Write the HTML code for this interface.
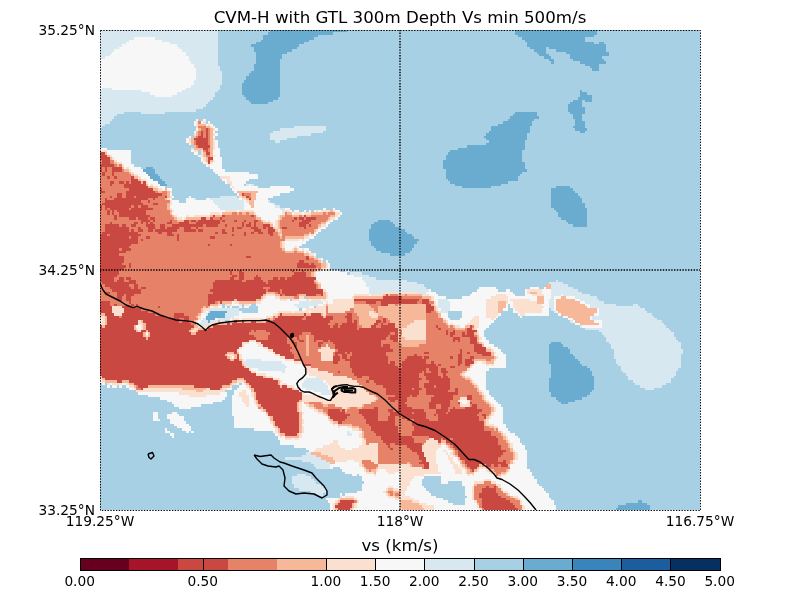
<!DOCTYPE html>
<html><head><meta charset="utf-8"><title>CVM-H with GTL 300m Depth Vs min 500m/s</title>
<style>
html,body{margin:0;padding:0;background:#fff;}
body{width:800px;height:600px;overflow:hidden;font-family:"DejaVu Sans","Liberation Sans",sans-serif;}
svg{display:block}
text{font-family:"DejaVu Sans","Liberation Sans",sans-serif;fill:#000}
.t10{font-size:13.75px}
.t12{font-size:16.67px}
</style></head><body>
<svg width="800" height="600" viewBox="0 0 800 600">
<rect width="800" height="600" fill="#fff"/>
<defs><clipPath id="mapclip"><rect x="100" y="30" width="600" height="480"/></clipPath></defs>
<g clip-path="url(#mapclip)" shape-rendering="crispEdges">
<rect x="100" y="30" width="600" height="480" fill="#a7d0e4"/>
<path fill="#ca4842" d="M206 128h2v3h-2zM201 131h2v2h-2zM206 131h2v2h-2zM201 133h2v3h-2zM206 133h2v3h-2zM198 136h5v2h-5zM206 136h2v2h-2zM194 138h14v2h-14zM196 140h12v3h-12zM196 143h12v2h-12zM198 145h12v3h-12zM203 148h5v2h-5zM206 150h2v2h-2zM100 152h5v3h-5zM206 152h4v3h-4zM100 155h7v2h-7zM100 157h10v3h-10zM208 157h5v3h-5zM102 160h8v2h-8zM208 160h2v2h-2zM102 162h8v2h-8zM208 162h2v2h-2zM100 164h14v3h-14zM100 167h2v2h-2zM105 167h2v2h-2zM112 167h10v2h-10zM100 169h2v3h-2zM105 169h2v3h-2zM112 169h10v3h-10zM102 172h3v2h-3zM112 172h2v2h-2zM102 174h3v2h-3zM112 174h2v2h-2zM107 176h3v3h-3zM114 176h3v3h-3zM131 176h3v3h-3zM131 179h7v2h-7zM110 181h4v3h-4zM119 181h5v3h-5zM126 181h3v3h-3zM131 181h10v3h-10zM143 181h3v3h-3zM110 184h2v2h-2zM124 184h22v2h-22zM124 186h24v2h-24zM100 188h2v3h-2zM129 188h24v3h-24zM100 191h5v2h-5zM126 191h29v2h-29zM117 193h5v3h-5zM126 193h36v3h-36zM242 193h2v3h-2zM110 196h2v2h-2zM117 196h5v2h-5zM126 196h8v2h-8zM136 196h22v2h-22zM165 196h2v2h-2zM246 196h3v2h-3zM105 198h2v2h-2zM114 198h34v2h-34zM153 198h2v2h-2zM249 198h2v2h-2zM105 200h36v3h-36zM148 200h2v3h-2zM102 203h41v2h-41zM153 203h5v2h-5zM100 205h2v3h-2zM105 205h26v3h-26zM134 205h4v3h-4zM141 205h7v3h-7zM100 208h2v2h-2zM105 208h2v2h-2zM110 208h19v2h-19zM131 208h22v2h-22zM107 210h3v2h-3zM112 210h2v2h-2zM117 210h29v2h-29zM107 212h3v3h-3zM112 212h2v3h-2zM119 212h27v3h-27zM114 215h3v2h-3zM119 215h31v2h-31zM213 215h2v2h-2zM222 215h3v2h-3zM251 215h3v2h-3zM304 215h2v2h-2zM114 217h3v3h-3zM129 217h7v3h-7zM138 217h10v3h-10zM150 217h5v3h-5zM201 217h5v3h-5zM210 217h3v3h-3zM220 217h2v3h-2zM294 217h3v3h-3zM299 217h5v3h-5zM306 217h10v3h-10zM141 220h9v2h-9zM153 220h2v2h-2zM170 220h2v2h-2zM184 220h5v2h-5zM191 220h5v2h-5zM198 220h22v2h-22zM222 220h3v2h-3zM234 220h3v2h-3zM244 220h2v2h-2zM254 220h4v2h-4zM292 220h2v2h-2zM302 220h9v2h-9zM110 222h2v2h-2zM134 222h4v2h-4zM141 222h2v2h-2zM146 222h2v2h-2zM150 222h3v2h-3zM167 222h5v2h-5zM179 222h10v2h-10zM196 222h24v2h-24zM242 222h2v2h-2zM249 222h2v2h-2zM254 222h2v2h-2zM299 222h10v2h-10zM105 224h14v3h-14zM122 224h4v3h-4zM131 224h5v3h-5zM146 224h9v3h-9zM160 224h5v3h-5zM172 224h31v3h-31zM206 224h12v3h-12zM225 224h2v3h-2zM242 224h2v3h-2zM246 224h5v3h-5zM254 224h2v3h-2zM263 224h7v3h-7zM299 224h7v3h-7zM309 224h2v3h-2zM105 227h24v2h-24zM138 227h3v2h-3zM148 227h7v2h-7zM160 227h5v2h-5zM167 227h12v2h-12zM184 227h7v2h-7zM196 227h2v2h-2zM232 227h2v2h-2zM237 227h5v2h-5zM251 227h7v2h-7zM263 227h3v2h-3zM268 227h5v2h-5zM282 227h5v2h-5zM304 227h2v2h-2zM105 229h24v3h-24zM131 229h3v3h-3zM138 229h5v3h-5zM148 229h5v3h-5zM155 229h22v3h-22zM184 229h12v3h-12zM198 229h5v3h-5zM222 229h3v3h-3zM232 229h2v3h-2zM254 229h7v3h-7zM268 229h7v3h-7zM102 232h36v2h-36zM158 232h4v2h-4zM167 232h5v2h-5zM215 232h3v2h-3zM222 232h5v2h-5zM244 232h2v2h-2zM251 232h3v2h-3zM258 232h5v2h-5zM268 232h5v2h-5zM100 234h7v2h-7zM110 234h31v2h-31zM167 234h7v2h-7zM177 234h2v2h-2zM232 234h2v2h-2zM244 234h2v2h-2zM270 234h3v2h-3zM100 236h29v3h-29zM131 236h7v3h-7zM146 236h4v3h-4zM177 236h2v3h-2zM210 236h5v3h-5zM100 239h38v2h-38zM141 239h2v2h-2zM177 239h2v2h-2zM100 241h38v3h-38zM100 244h31v2h-31zM208 244h2v2h-2zM230 244h2v2h-2zM100 246h29v2h-29zM100 248h19v3h-19zM122 248h9v3h-9zM100 251h26v2h-26zM100 253h19v3h-19zM100 256h24v2h-24zM246 256h5v2h-5zM306 256h3v2h-3zM100 258h24v2h-24zM306 258h3v2h-3zM100 260h24v3h-24zM299 260h5v3h-5zM100 263h22v2h-22zM129 263h2v2h-2zM297 263h12v2h-12zM311 263h3v2h-3zM100 265h26v3h-26zM129 265h2v3h-2zM297 265h19v3h-19zM100 268h24v2h-24zM100 270h19v2h-19zM230 270h2v2h-2zM239 270h3v2h-3zM292 270h2v2h-2zM302 270h2v2h-2zM100 272h19v3h-19zM230 272h2v3h-2zM239 272h5v3h-5zM294 272h12v3h-12zM100 275h17v2h-17zM232 275h5v2h-5zM239 275h5v2h-5zM256 275h2v2h-2zM292 275h14v2h-14zM100 277h14v3h-14zM119 277h5v3h-5zM126 277h5v3h-5zM230 277h4v3h-4zM239 277h5v3h-5zM254 277h7v3h-7zM273 277h5v3h-5zM280 277h5v3h-5zM287 277h29v3h-29zM100 280h14v2h-14zM117 280h7v2h-7zM129 280h7v2h-7zM215 280h27v2h-27zM246 280h17v2h-17zM268 280h46v2h-46zM102 282h34v2h-34zM213 282h53v2h-53zM268 282h46v2h-46zM105 284h24v3h-24zM134 284h4v3h-4zM213 284h103v3h-103zM110 287h21v2h-21zM134 287h4v2h-4zM141 287h5v2h-5zM213 287h50v2h-50zM270 287h46v2h-46zM112 289h29v3h-29zM210 289h56v3h-56zM268 289h12v3h-12zM282 289h41v3h-41zM105 292h5v2h-5zM117 292h24v2h-24zM213 292h53v2h-53zM278 292h2v2h-2zM282 292h41v2h-41zM117 294h7v2h-7zM126 294h8v2h-8zM208 294h55v2h-55zM280 294h2v2h-2zM285 294h12v2h-12zM306 294h10v2h-10zM321 294h2v2h-2zM386 294h2v2h-2zM117 296h5v3h-5zM126 296h5v3h-5zM208 296h53v3h-53zM383 296h19v3h-19zM119 299h3v2h-3zM126 299h5v2h-5zM208 299h26v2h-26zM237 299h19v2h-19zM354 299h65v2h-65zM422 299h7v2h-7zM100 301h10v3h-10zM129 301h2v3h-2zM208 301h7v3h-7zM220 301h2v3h-2zM366 301h10v3h-10zM381 301h36v3h-36zM422 301h7v3h-7zM100 304h10v2h-10zM114 304h3v2h-3zM131 304h3v2h-3zM136 304h2v2h-2zM208 304h2v2h-2zM381 304h7v2h-7zM426 304h5v2h-5zM100 306h12v2h-12zM122 306h9v2h-9zM158 306h2v2h-2zM426 306h8v2h-8zM100 308h12v3h-12zM124 308h17v3h-17zM426 308h8v3h-8zM100 311h12v2h-12zM124 311h24v2h-24zM426 311h5v2h-5zM105 313h9v3h-9zM122 313h33v3h-33zM174 313h10v3h-10zM280 313h2v3h-2zM304 313h2v3h-2zM311 313h10v3h-10zM347 313h5v3h-5zM107 316h12v2h-12zM122 316h43v2h-43zM174 316h15v2h-15zM278 316h26v2h-26zM306 316h17v2h-17zM326 316h7v2h-7zM345 316h7v2h-7zM107 318h72v2h-72zM184 318h5v2h-5zM275 318h27v2h-27zM306 318h27v2h-27zM347 318h5v2h-5zM383 318h3v2h-3zM107 320h31v3h-31zM143 320h36v3h-36zM182 320h7v3h-7zM234 320h3v3h-3zM242 320h2v3h-2zM251 320h5v3h-5zM266 320h4v3h-4zM273 320h57v3h-57zM347 320h5v3h-5zM354 320h3v3h-3zM376 320h5v3h-5zM383 320h3v3h-3zM107 323h31v2h-31zM146 323h45v2h-45zM227 323h3v2h-3zM232 323h96v2h-96zM335 323h3v2h-3zM342 323h15v2h-15zM374 323h4v2h-4zM381 323h2v2h-2zM388 323h7v2h-7zM100 325h2v3h-2zM105 325h29v3h-29zM146 325h48v3h-48zM213 325h117v3h-117zM333 325h5v3h-5zM340 325h17v3h-17zM371 325h5v3h-5zM381 325h14v3h-14zM436 325h2v3h-2zM470 325h2v3h-2zM100 328h34v2h-34zM146 328h45v2h-45zM208 328h149v2h-149zM359 328h39v2h-39zM438 328h3v2h-3zM467 328h5v2h-5zM100 330h36v2h-36zM141 330h5v2h-5zM148 330h41v2h-41zM198 330h53v2h-53zM254 330h2v2h-2zM266 330h132v2h-132zM446 330h2v2h-2zM453 330h2v2h-2zM467 330h10v2h-10zM100 332h43v3h-43zM150 332h41v3h-41zM196 332h53v3h-53zM270 332h32v3h-32zM311 332h79v3h-79zM395 332h3v3h-3zM446 332h2v3h-2zM450 332h5v3h-5zM462 332h3v3h-3zM467 332h7v3h-7zM100 335h43v2h-43zM150 335h104v2h-104zM268 335h31v2h-31zM314 335h74v2h-74zM390 335h8v2h-8zM450 335h3v2h-3zM462 335h12v2h-12zM100 337h46v3h-46zM148 337h108v3h-108zM268 337h19v3h-19zM290 337h2v3h-2zM297 337h2v3h-2zM314 337h72v3h-72zM390 337h8v3h-8zM453 337h7v3h-7zM470 337h7v3h-7zM100 340h149v2h-149zM256 340h31v2h-31zM292 340h2v2h-2zM299 340h5v2h-5zM314 340h2v2h-2zM323 340h5v2h-5zM330 340h51v2h-51zM393 340h5v2h-5zM453 340h2v2h-2zM458 340h2v2h-2zM470 340h7v2h-7zM100 342h142v2h-142zM261 342h26v2h-26zM294 342h3v2h-3zM318 342h5v2h-5zM333 342h48v2h-48zM470 342h7v2h-7zM100 344h142v3h-142zM263 344h27v3h-27zM294 344h3v3h-3zM318 344h3v3h-3zM335 344h46v3h-46zM383 344h7v3h-7zM474 344h8v3h-8zM100 347h139v2h-139zM268 347h24v2h-24zM335 347h55v2h-55zM474 347h12v2h-12zM100 349h137v3h-137zM273 349h17v3h-17zM338 349h55v3h-55zM460 349h2v3h-2zM474 349h12v3h-12zM100 352h127v2h-127zM234 352h3v2h-3zM275 352h17v2h-17zM335 352h10v2h-10zM347 352h3v2h-3zM352 352h34v2h-34zM424 352h5v2h-5zM460 352h2v2h-2zM467 352h3v2h-3zM477 352h14v2h-14zM100 354h125v2h-125zM237 354h2v2h-2zM280 354h14v2h-14zM335 354h3v2h-3zM342 354h5v2h-5zM352 354h34v2h-34zM414 354h3v2h-3zM458 354h4v2h-4zM482 354h9v2h-9zM100 356h127v3h-127zM237 356h2v3h-2zM285 356h9v3h-9zM333 356h7v3h-7zM342 356h5v3h-5zM350 356h38v3h-38zM407 356h15v3h-15zM424 356h5v3h-5zM450 356h3v3h-3zM458 356h4v3h-4zM470 356h4v3h-4zM100 359h130v2h-130zM234 359h5v2h-5zM294 359h8v2h-8zM333 359h7v2h-7zM345 359h43v2h-43zM405 359h21v2h-21zM458 359h4v2h-4zM465 359h7v2h-7zM100 361h142v3h-142zM333 361h5v3h-5zM350 361h38v3h-38zM390 361h5v3h-5zM402 361h24v3h-24zM431 361h3v3h-3zM458 361h4v3h-4zM465 361h9v3h-9zM100 364h142v2h-142zM304 364h7v2h-7zM350 364h45v2h-45zM400 364h36v2h-36zM438 364h3v2h-3zM458 364h2v2h-2zM465 364h5v2h-5zM100 366h144v2h-144zM350 366h48v2h-48zM402 366h36v2h-36zM450 366h5v2h-5zM100 368h149v3h-149zM352 368h74v3h-74zM429 368h9v3h-9zM441 368h5v3h-5zM100 371h151v2h-151zM338 371h2v2h-2zM352 371h70v2h-70zM424 371h2v2h-2zM431 371h7v2h-7zM441 371h7v2h-7zM100 373h156v3h-156zM354 373h65v3h-65zM424 373h14v3h-14zM443 373h3v3h-3zM102 376h161v2h-161zM357 376h5v2h-5zM369 376h50v2h-50zM426 376h15v2h-15zM443 376h5v2h-5zM105 378h132v2h-132zM244 378h29v2h-29zM369 378h53v2h-53zM426 378h24v2h-24zM117 380h5v3h-5zM129 380h103v3h-103zM246 380h32v3h-32zM366 380h3v3h-3zM374 380h45v3h-45zM429 380h21v3h-21zM134 383h96v2h-96zM249 383h29v2h-29zM376 383h43v2h-43zM424 383h26v2h-26zM138 385h10v3h-10zM194 385h28v3h-28zM251 385h29v3h-29zM282 385h5v3h-5zM383 385h36v3h-36zM424 385h10v3h-10zM436 385h14v3h-14zM141 388h2v2h-2zM210 388h10v2h-10zM254 388h38v2h-38zM386 388h26v2h-26zM414 388h8v2h-8zM426 388h24v2h-24zM455 388h3v2h-3zM254 390h45v2h-45zM386 390h33v2h-33zM426 390h22v2h-22zM455 390h3v2h-3zM256 392h46v3h-46zM386 392h33v3h-33zM426 392h32v3h-32zM256 395h46v2h-46zM395 395h15v2h-15zM412 395h5v2h-5zM434 395h19v2h-19zM467 395h5v2h-5zM256 397h46v3h-46zM388 397h19v3h-19zM431 397h22v3h-22zM467 397h5v3h-5zM258 400h41v2h-41zM390 400h5v2h-5zM398 400h9v2h-9zM431 400h19v2h-19zM258 402h39v2h-39zM398 402h7v2h-7zM429 402h21v2h-21zM458 402h2v2h-2zM470 402h2v2h-2zM261 404h36v3h-36zM398 404h9v3h-9zM429 404h7v3h-7zM441 404h9v3h-9zM472 404h5v3h-5zM263 407h34v2h-34zM374 407h4v2h-4zM398 407h14v2h-14zM429 407h7v2h-7zM441 407h7v2h-7zM453 407h2v2h-2zM465 407h12v2h-12zM266 409h31v3h-31zM328 409h12v3h-12zM342 409h3v3h-3zM359 409h19v3h-19zM388 409h5v3h-5zM398 409h26v3h-26zM436 409h12v3h-12zM450 409h32v3h-32zM268 412h31v2h-31zM328 412h17v2h-17zM359 412h19v2h-19zM390 412h8v2h-8zM400 412h12v2h-12zM414 412h12v2h-12zM436 412h10v2h-10zM448 412h31v2h-31zM268 414h31v2h-31zM328 414h22v2h-22zM362 414h16v2h-16zM390 414h36v2h-36zM434 414h2v2h-2zM438 414h39v2h-39zM482 414h4v2h-4zM273 416h26v3h-26zM330 416h17v3h-17zM364 416h14v3h-14zM388 416h7v3h-7zM402 416h24v3h-24zM438 416h41v3h-41zM484 416h2v3h-2zM273 419h26v2h-26zM333 419h12v2h-12zM366 419h12v2h-12zM388 419h7v2h-7zM407 419h3v2h-3zM414 419h15v2h-15zM438 419h41v2h-41zM275 421h24v3h-24zM338 421h4v3h-4zM366 421h29v3h-29zM412 421h72v3h-72zM275 424h24v2h-24zM369 424h26v2h-26zM412 424h72v2h-72zM278 426h21v2h-21zM371 426h27v2h-27zM414 426h70v2h-70zM280 428h19v3h-19zM371 428h27v3h-27zM414 428h70v3h-70zM280 431h19v2h-19zM374 431h24v2h-24zM412 431h79v2h-79zM285 433h12v3h-12zM376 433h24v3h-24zM412 433h79v3h-79zM381 436h31v2h-31zM429 436h67v2h-67zM381 438h33v2h-33zM434 438h7v2h-7zM443 438h7v2h-7zM453 438h45v2h-45zM383 440h31v3h-31zM438 440h3v3h-3zM446 440h52v3h-52zM386 443h4v2h-4zM395 443h27v2h-27zM450 443h48v2h-48zM388 445h2v3h-2zM407 445h15v3h-15zM453 445h48v3h-48zM390 448h3v2h-3zM410 448h12v2h-12zM455 448h46v2h-46zM412 450h10v2h-10zM458 450h48v2h-48zM417 452h7v3h-7zM458 452h45v3h-45zM419 455h5v2h-5zM458 455h43v2h-43zM419 457h7v3h-7zM460 457h38v3h-38zM422 460h4v2h-4zM465 460h33v2h-33zM503 460h3v2h-3zM419 462h10v2h-10zM465 462h41v2h-41zM424 464h5v3h-5zM467 464h12v3h-12zM486 464h5v3h-5zM494 464h4v3h-4zM501 464h7v3h-7zM424 467h5v2h-5zM470 467h7v2h-7zM472 469h2v3h-2zM486 486h3v2h-3zM494 486h2v2h-2zM482 488h14v3h-14zM482 491h14v2h-14zM479 493h19v3h-19zM479 496h22v2h-22zM482 498h24v2h-24zM340 500h14v3h-14zM482 500h28v3h-28zM338 503h14v2h-14zM482 503h31v2h-31zM335 505h17v3h-17zM482 505h33v3h-33zM338 508h12v2h-12zM484 508h34v2h-34z"/>
<path fill="#e58267" d="M198 121h3v3h-3zM198 126h8v2h-8zM201 128h5v3h-5zM208 128h2v3h-2zM198 131h3v2h-3zM203 131h3v2h-3zM208 131h2v2h-2zM198 133h3v3h-3zM203 133h3v3h-3zM208 133h2v3h-2zM196 136h2v2h-2zM203 136h3v2h-3zM208 136h2v2h-2zM208 138h2v2h-2zM194 140h2v3h-2zM208 140h2v3h-2zM194 143h2v2h-2zM208 143h2v2h-2zM196 145h2v3h-2zM208 148h2v2h-2zM203 150h3v2h-3zM208 150h2v2h-2zM206 155h4v2h-4zM100 160h2v2h-2zM110 160h4v2h-4zM100 162h2v2h-2zM110 162h4v2h-4zM114 164h3v3h-3zM119 164h3v3h-3zM102 167h3v2h-3zM107 167h5v2h-5zM102 169h3v3h-3zM107 169h5v3h-5zM122 169h2v3h-2zM100 172h2v2h-2zM105 172h7v2h-7zM114 172h15v2h-15zM100 174h2v2h-2zM105 174h7v2h-7zM114 174h17v2h-17zM100 176h7v3h-7zM110 176h4v3h-4zM117 176h14v3h-14zM100 179h31v2h-31zM100 181h10v3h-10zM114 181h5v3h-5zM124 181h2v3h-2zM129 181h2v3h-2zM100 184h10v2h-10zM112 184h12v2h-12zM100 186h24v2h-24zM102 188h27v3h-27zM105 191h21v2h-21zM155 191h3v2h-3zM162 191h5v2h-5zM100 193h17v3h-17zM122 193h4v3h-4zM162 193h5v3h-5zM244 193h7v3h-7zM100 196h10v2h-10zM112 196h5v2h-5zM122 196h4v2h-4zM134 196h2v2h-2zM158 196h7v2h-7zM249 196h2v2h-2zM100 198h5v2h-5zM107 198h7v2h-7zM148 198h5v2h-5zM155 198h10v2h-10zM100 200h5v3h-5zM141 200h7v3h-7zM150 200h20v3h-20zM100 203h2v2h-2zM143 203h10v2h-10zM158 203h9v2h-9zM102 205h3v3h-3zM131 205h3v3h-3zM138 205h3v3h-3zM148 205h19v3h-19zM102 208h3v2h-3zM107 208h3v2h-3zM129 208h2v2h-2zM153 208h14v2h-14zM100 210h7v2h-7zM110 210h2v2h-2zM114 210h3v2h-3zM146 210h24v2h-24zM100 212h7v3h-7zM110 212h2v3h-2zM114 212h5v3h-5zM146 212h24v3h-24zM232 212h5v3h-5zM239 212h3v3h-3zM246 212h3v3h-3zM285 212h2v3h-2zM323 212h3v3h-3zM328 212h7v3h-7zM100 215h14v2h-14zM117 215h2v2h-2zM150 215h22v2h-22zM225 215h26v2h-26zM254 215h2v2h-2zM285 215h7v2h-7zM299 215h3v2h-3zM311 215h19v2h-19zM100 217h14v3h-14zM117 217h12v3h-12zM136 217h2v3h-2zM148 217h2v3h-2zM155 217h19v3h-19zM213 217h7v3h-7zM222 217h34v3h-34zM282 217h12v3h-12zM297 217h2v3h-2zM304 217h2v3h-2zM316 217h12v3h-12zM100 220h41v2h-41zM150 220h3v2h-3zM155 220h15v2h-15zM172 220h5v2h-5zM189 220h2v2h-2zM196 220h2v2h-2zM220 220h2v2h-2zM225 220h9v2h-9zM237 220h7v2h-7zM246 220h8v2h-8zM258 220h3v2h-3zM280 220h12v2h-12zM294 220h8v2h-8zM311 220h15v2h-15zM100 222h10v2h-10zM112 222h22v2h-22zM138 222h3v2h-3zM143 222h3v2h-3zM148 222h2v2h-2zM153 222h14v2h-14zM172 222h7v2h-7zM189 222h7v2h-7zM220 222h22v2h-22zM244 222h5v2h-5zM251 222h3v2h-3zM256 222h7v2h-7zM280 222h19v2h-19zM309 222h12v2h-12zM100 224h5v3h-5zM119 224h3v3h-3zM126 224h5v3h-5zM136 224h10v3h-10zM155 224h5v3h-5zM165 224h7v3h-7zM203 224h3v3h-3zM218 224h7v3h-7zM227 224h15v3h-15zM244 224h2v3h-2zM251 224h3v3h-3zM256 224h7v3h-7zM280 224h19v3h-19zM306 224h3v3h-3zM311 224h7v3h-7zM100 227h5v2h-5zM129 227h9v2h-9zM141 227h7v2h-7zM155 227h5v2h-5zM165 227h2v2h-2zM179 227h5v2h-5zM191 227h5v2h-5zM198 227h34v2h-34zM234 227h3v2h-3zM242 227h9v2h-9zM258 227h5v2h-5zM266 227h2v2h-2zM280 227h2v2h-2zM287 227h17v2h-17zM306 227h12v2h-12zM100 229h5v3h-5zM129 229h2v3h-2zM134 229h4v3h-4zM143 229h5v3h-5zM153 229h2v3h-2zM177 229h7v3h-7zM196 229h2v3h-2zM203 229h19v3h-19zM225 229h7v3h-7zM234 229h20v3h-20zM261 229h7v3h-7zM282 229h32v3h-32zM100 232h2v2h-2zM138 232h20v2h-20zM162 232h5v2h-5zM172 232h43v2h-43zM218 232h4v2h-4zM227 232h17v2h-17zM246 232h5v2h-5zM254 232h4v2h-4zM263 232h5v2h-5zM273 232h5v2h-5zM282 232h27v2h-27zM311 232h3v2h-3zM107 234h3v2h-3zM141 234h26v2h-26zM174 234h3v2h-3zM179 234h53v2h-53zM234 234h10v2h-10zM246 234h24v2h-24zM273 234h5v2h-5zM282 234h22v2h-22zM129 236h2v3h-2zM138 236h8v3h-8zM150 236h27v3h-27zM179 236h31v3h-31zM215 236h65v3h-65zM282 236h3v3h-3zM138 239h3v2h-3zM143 239h34v2h-34zM179 239h106v2h-106zM138 241h142v3h-142zM131 244h77v2h-77zM210 244h20v2h-20zM232 244h48v2h-48zM129 246h151v2h-151zM119 248h3v3h-3zM131 248h151v3h-151zM126 251h159v2h-159zM294 251h3v2h-3zM119 253h185v3h-185zM124 256h122v2h-122zM251 256h55v2h-55zM124 258h182v2h-182zM309 258h5v2h-5zM124 260h175v3h-175zM304 260h14v3h-14zM122 263h7v2h-7zM131 263h166v2h-166zM309 263h2v2h-2zM314 263h7v2h-7zM126 265h3v3h-3zM131 265h166v3h-166zM316 265h5v3h-5zM124 268h192v2h-192zM318 268h3v2h-3zM119 270h111v2h-111zM232 270h7v2h-7zM242 270h50v2h-50zM294 270h8v2h-8zM304 270h10v2h-10zM119 272h111v3h-111zM232 272h7v3h-7zM244 272h50v3h-50zM306 272h5v3h-5zM117 275h115v2h-115zM237 275h2v2h-2zM244 275h12v2h-12zM258 275h34v2h-34zM306 275h5v2h-5zM114 277h5v3h-5zM124 277h2v3h-2zM131 277h99v3h-99zM234 277h5v3h-5zM244 277h10v3h-10zM261 277h12v3h-12zM278 277h2v3h-2zM285 277h2v3h-2zM114 280h3v2h-3zM124 280h5v2h-5zM136 280h79v2h-79zM242 280h4v2h-4zM263 280h5v2h-5zM100 282h2v2h-2zM136 282h77v2h-77zM266 282h2v2h-2zM314 282h2v2h-2zM100 284h5v3h-5zM129 284h5v3h-5zM138 284h75v3h-75zM316 284h2v3h-2zM100 287h10v2h-10zM131 287h3v2h-3zM138 287h3v2h-3zM146 287h67v2h-67zM263 287h7v2h-7zM316 287h2v2h-2zM100 289h12v3h-12zM141 289h69v3h-69zM266 289h2v3h-2zM280 289h2v3h-2zM100 292h5v2h-5zM110 292h7v2h-7zM141 292h72v2h-72zM275 292h3v2h-3zM280 292h2v2h-2zM100 294h17v2h-17zM124 294h2v2h-2zM134 294h74v2h-74zM282 294h3v2h-3zM297 294h2v2h-2zM316 294h5v2h-5zM390 294h8v2h-8zM405 294h2v2h-2zM100 296h17v3h-17zM122 296h4v3h-4zM131 296h77v3h-77zM294 296h5v3h-5zM402 296h20v3h-20zM100 299h19v2h-19zM122 299h4v2h-4zM131 299h77v2h-77zM419 299h3v2h-3zM110 301h19v3h-19zM131 301h77v3h-77zM215 301h3v3h-3zM354 301h12v3h-12zM376 301h5v3h-5zM417 301h5v3h-5zM429 301h5v3h-5zM110 304h4v2h-4zM117 304h14v2h-14zM134 304h2v2h-2zM138 304h70v2h-70zM369 304h12v2h-12zM395 304h3v2h-3zM131 306h27v2h-27zM160 306h43v2h-43zM206 306h2v2h-2zM326 306h2v2h-2zM371 306h7v2h-7zM141 308h60v3h-60zM326 308h2v3h-2zM350 308h4v3h-4zM374 308h4v3h-4zM148 311h53v2h-53zM326 311h2v2h-2zM345 311h9v2h-9zM376 311h2v2h-2zM431 311h5v2h-5zM155 313h19v3h-19zM184 313h14v3h-14zM326 313h21v3h-21zM352 313h5v3h-5zM426 313h12v3h-12zM119 316h3v2h-3zM165 316h9v2h-9zM189 316h7v2h-7zM273 316h2v2h-2zM304 316h2v2h-2zM333 316h12v2h-12zM352 316h7v2h-7zM378 316h5v2h-5zM426 316h12v2h-12zM179 318h5v2h-5zM189 318h9v2h-9zM268 318h2v2h-2zM273 318h2v2h-2zM302 318h4v2h-4zM333 318h14v2h-14zM352 318h7v2h-7zM378 318h5v2h-5zM386 318h2v2h-2zM426 318h17v2h-17zM179 320h3v3h-3zM189 320h5v3h-5zM270 320h3v3h-3zM330 320h17v3h-17zM352 320h2v3h-2zM357 320h2v3h-2zM381 320h2v3h-2zM386 320h4v3h-4zM426 320h17v3h-17zM191 323h5v2h-5zM328 323h7v2h-7zM338 323h4v2h-4zM357 323h2v2h-2zM378 323h3v2h-3zM383 323h5v2h-5zM426 323h20v2h-20zM330 325h3v3h-3zM338 325h2v3h-2zM357 325h5v3h-5zM376 325h5v3h-5zM426 325h10v3h-10zM438 325h10v3h-10zM450 325h3v3h-3zM472 325h2v3h-2zM357 328h2v2h-2zM426 328h12v2h-12zM441 328h14v2h-14zM465 328h2v2h-2zM251 330h3v2h-3zM256 330h10v2h-10zM400 330h2v2h-2zM426 330h20v2h-20zM448 330h5v2h-5zM455 330h12v2h-12zM249 332h21v3h-21zM302 332h9v3h-9zM390 332h5v3h-5zM400 332h2v3h-2zM426 332h20v3h-20zM448 332h2v3h-2zM455 332h7v3h-7zM465 332h2v3h-2zM254 335h14v2h-14zM299 335h7v2h-7zM309 335h5v2h-5zM388 335h2v2h-2zM426 335h24v2h-24zM453 335h9v2h-9zM474 335h3v2h-3zM256 337h12v3h-12zM287 337h3v3h-3zM292 337h5v3h-5zM299 337h7v3h-7zM309 337h5v3h-5zM386 337h4v3h-4zM426 337h27v3h-27zM460 337h10v3h-10zM287 340h5v2h-5zM294 340h5v2h-5zM304 340h2v2h-2zM309 340h5v2h-5zM316 340h7v2h-7zM328 340h2v2h-2zM381 340h12v2h-12zM426 340h27v2h-27zM455 340h3v2h-3zM460 340h10v2h-10zM287 342h7v2h-7zM297 342h9v2h-9zM309 342h9v2h-9zM323 342h10v2h-10zM381 342h19v2h-19zM426 342h44v2h-44zM477 342h2v2h-2zM290 344h4v3h-4zM297 344h9v3h-9zM309 344h9v3h-9zM321 344h5v3h-5zM328 344h7v3h-7zM381 344h2v3h-2zM390 344h12v3h-12zM419 344h55v3h-55zM292 347h14v2h-14zM309 347h12v2h-12zM330 347h5v2h-5zM390 347h84v2h-84zM290 349h16v3h-16zM309 349h9v3h-9zM335 349h3v3h-3zM393 349h67v3h-67zM462 349h12v3h-12zM292 352h14v2h-14zM309 352h12v2h-12zM333 352h2v2h-2zM345 352h2v2h-2zM350 352h2v2h-2zM386 352h38v2h-38zM429 352h31v2h-31zM462 352h5v2h-5zM470 352h7v2h-7zM294 354h12v2h-12zM309 354h12v2h-12zM333 354h2v2h-2zM338 354h4v2h-4zM347 354h5v2h-5zM386 354h28v2h-28zM417 354h41v2h-41zM462 354h20v2h-20zM294 356h27v3h-27zM340 356h2v3h-2zM347 356h3v3h-3zM388 356h19v3h-19zM422 356h2v3h-2zM429 356h21v3h-21zM453 356h5v3h-5zM462 356h8v3h-8zM474 356h20v3h-20zM302 359h19v2h-19zM340 359h5v2h-5zM388 359h17v2h-17zM426 359h32v2h-32zM462 359h3v2h-3zM472 359h2v2h-2zM486 359h5v2h-5zM302 361h31v3h-31zM338 361h12v3h-12zM388 361h2v3h-2zM395 361h7v3h-7zM426 361h5v3h-5zM434 361h24v3h-24zM462 361h3v3h-3zM311 364h39v2h-39zM395 364h5v2h-5zM436 364h2v2h-2zM441 364h17v2h-17zM460 364h5v2h-5zM311 366h39v2h-39zM398 366h4v2h-4zM438 366h12v2h-12zM455 366h15v2h-15zM318 368h34v3h-34zM426 368h3v3h-3zM438 368h3v3h-3zM446 368h21v3h-21zM328 371h10v2h-10zM340 371h12v2h-12zM422 371h2v2h-2zM426 371h5v2h-5zM438 371h3v2h-3zM448 371h14v2h-14zM333 373h21v3h-21zM419 373h5v3h-5zM438 373h5v3h-5zM446 373h14v3h-14zM347 376h10v2h-10zM362 376h7v2h-7zM419 376h7v2h-7zM441 376h2v2h-2zM448 376h14v2h-14zM352 378h17v2h-17zM422 378h4v2h-4zM450 378h15v2h-15zM357 380h9v3h-9zM369 380h5v3h-5zM419 380h10v3h-10zM450 380h20v3h-20zM359 383h17v2h-17zM419 383h5v2h-5zM450 383h22v2h-22zM136 385h2v3h-2zM362 385h21v3h-21zM419 385h5v3h-5zM434 385h2v3h-2zM450 385h24v3h-24zM136 388h5v2h-5zM364 388h22v2h-22zM412 388h2v2h-2zM422 388h4v2h-4zM450 388h5v2h-5zM458 388h19v2h-19zM366 390h20v2h-20zM419 390h7v2h-7zM448 390h7v2h-7zM458 390h19v2h-19zM369 392h17v3h-17zM419 392h7v3h-7zM458 392h21v3h-21zM376 395h19v2h-19zM410 395h2v2h-2zM417 395h17v2h-17zM453 395h14v2h-14zM472 395h10v2h-10zM378 397h10v3h-10zM407 397h24v3h-24zM453 397h7v3h-7zM472 397h10v3h-10zM376 400h14v2h-14zM395 400h3v2h-3zM407 400h24v2h-24zM450 400h8v2h-8zM470 400h14v2h-14zM309 402h12v2h-12zM371 402h27v2h-27zM405 402h24v2h-24zM450 402h8v2h-8zM472 402h14v2h-14zM314 404h9v3h-9zM328 404h7v3h-7zM364 404h34v3h-34zM407 404h22v3h-22zM436 404h5v3h-5zM450 404h10v3h-10zM470 404h2v3h-2zM477 404h12v3h-12zM258 407h3v2h-3zM316 407h26v2h-26zM350 407h7v2h-7zM362 407h12v2h-12zM378 407h20v2h-20zM412 407h17v2h-17zM436 407h5v2h-5zM448 407h5v2h-5zM455 407h10v2h-10zM477 407h14v2h-14zM323 409h5v3h-5zM340 409h2v3h-2zM347 409h12v3h-12zM378 409h10v3h-10zM393 409h5v3h-5zM424 409h12v3h-12zM448 409h2v3h-2zM482 409h9v3h-9zM326 412h2v2h-2zM345 412h14v2h-14zM378 412h12v2h-12zM398 412h2v2h-2zM412 412h2v2h-2zM426 412h10v2h-10zM446 412h2v2h-2zM479 412h12v2h-12zM350 414h12v2h-12zM378 414h12v2h-12zM426 414h8v2h-8zM436 414h2v2h-2zM477 414h5v2h-5zM486 414h3v2h-3zM347 416h17v3h-17zM378 416h10v3h-10zM395 416h7v3h-7zM426 416h12v3h-12zM479 416h5v3h-5zM345 419h21v2h-21zM378 419h10v2h-10zM395 419h12v2h-12zM410 419h4v2h-4zM429 419h9v2h-9zM479 419h5v2h-5zM342 421h24v3h-24zM395 421h17v3h-17zM352 424h17v2h-17zM395 424h17v2h-17zM359 426h12v2h-12zM398 426h16v2h-16zM484 426h5v2h-5zM362 428h9v3h-9zM398 428h16v3h-16zM484 428h10v3h-10zM496 428h2v3h-2zM364 431h10v2h-10zM398 431h14v2h-14zM491 431h7v2h-7zM364 433h12v3h-12zM400 433h12v3h-12zM491 433h10v3h-10zM364 436h17v2h-17zM412 436h17v2h-17zM496 436h7v2h-7zM366 438h15v2h-15zM414 438h15v2h-15zM441 438h2v2h-2zM450 438h3v2h-3zM498 438h5v2h-5zM366 440h17v3h-17zM414 440h12v3h-12zM498 440h8v3h-8zM366 443h3v2h-3zM378 443h8v2h-8zM390 443h5v2h-5zM422 443h2v2h-2zM446 443h4v2h-4zM498 443h10v2h-10zM378 445h10v3h-10zM390 445h17v3h-17zM450 445h3v3h-3zM501 445h7v3h-7zM378 448h12v2h-12zM393 448h17v2h-17zM453 448h2v2h-2zM501 448h9v2h-9zM378 450h34v2h-34zM455 450h3v2h-3zM506 450h4v2h-4zM378 452h39v3h-39zM455 452h3v3h-3zM503 452h10v3h-10zM378 455h41v2h-41zM501 455h12v2h-12zM378 457h41v3h-41zM498 457h15v3h-15zM362 460h9v2h-9zM378 460h44v2h-44zM462 460h3v2h-3zM498 460h5v2h-5zM506 460h4v2h-4zM362 462h12v2h-12zM378 462h29v2h-29zM410 462h9v2h-9zM462 462h3v2h-3zM506 462h4v2h-4zM364 464h14v3h-14zM412 464h12v3h-12zM465 464h2v3h-2zM482 464h2v3h-2zM491 464h3v3h-3zM498 464h3v3h-3zM366 467h10v2h-10zM422 467h2v2h-2zM467 467h3v2h-3zM489 467h21v2h-21zM369 469h2v3h-2zM470 469h2v3h-2zM494 469h12v3h-12zM496 472h5v2h-5zM496 474h2v2h-2zM484 481h7v3h-7zM477 484h19v2h-19zM474 486h12v2h-12zM489 486h5v2h-5zM496 486h2v2h-2zM474 488h8v3h-8zM496 488h5v3h-5zM388 491h5v2h-5zM474 491h8v2h-8zM496 491h7v2h-7zM390 493h3v3h-3zM395 493h5v3h-5zM474 493h5v3h-5zM498 493h8v3h-8zM474 496h5v2h-5zM501 496h9v2h-9zM474 498h8v2h-8zM506 498h9v2h-9zM354 500h3v3h-3zM477 500h5v3h-5zM510 500h10v3h-10zM479 503h3v2h-3zM513 503h7v2h-7zM479 505h3v3h-3zM515 505h7v3h-7zM482 508h2v2h-2zM518 508h4v2h-4z"/>
<path fill="#f7b799" d="M198 124h8v2h-8zM206 126h4v2h-4zM198 128h3v3h-3zM210 128h3v3h-3zM196 131h2v2h-2zM210 131h3v2h-3zM196 133h2v3h-2zM210 133h3v3h-3zM194 136h2v2h-2zM210 136h3v2h-3zM191 138h3v2h-3zM210 138h3v2h-3zM191 140h3v3h-3zM210 140h3v3h-3zM191 143h3v2h-3zM210 143h3v2h-3zM194 145h2v3h-2zM210 145h3v3h-3zM194 148h9v2h-9zM210 148h3v2h-3zM210 150h3v2h-3zM105 152h2v3h-2zM203 152h3v3h-3zM210 152h3v3h-3zM107 155h3v2h-3zM203 155h3v2h-3zM210 155h3v2h-3zM110 157h2v3h-2zM206 157h2v3h-2zM206 160h2v2h-2zM210 160h3v2h-3zM114 162h3v2h-3zM117 164h2v3h-2zM122 167h2v2h-2zM124 169h5v3h-5zM129 172h2v2h-2zM131 174h3v2h-3zM134 176h4v3h-4zM138 179h3v2h-3zM141 181h2v3h-2zM146 184h2v2h-2zM148 186h5v2h-5zM153 188h5v3h-5zM165 188h2v3h-2zM158 191h4v2h-4zM167 191h3v2h-3zM237 191h21v2h-21zM167 193h3v3h-3zM239 193h3v3h-3zM251 193h5v3h-5zM167 196h3v2h-3zM242 196h4v2h-4zM251 196h5v2h-5zM165 198h2v2h-2zM246 198h3v2h-3zM251 198h5v2h-5zM249 200h5v3h-5zM167 203h3v2h-3zM249 203h5v2h-5zM167 205h3v3h-3zM251 205h3v3h-3zM167 208h3v2h-3zM170 210h2v2h-2zM330 210h3v2h-3zM170 212h2v3h-2zM222 212h10v3h-10zM237 212h2v3h-2zM242 212h4v3h-4zM249 212h5v3h-5zM287 212h5v3h-5zM311 212h12v3h-12zM326 212h2v3h-2zM172 215h2v2h-2zM210 215h3v2h-3zM215 215h7v2h-7zM280 215h5v2h-5zM292 215h7v2h-7zM302 215h2v2h-2zM306 215h5v2h-5zM330 215h5v2h-5zM174 217h3v3h-3zM186 217h15v3h-15zM206 217h4v3h-4zM256 217h5v3h-5zM280 217h2v3h-2zM328 217h2v3h-2zM177 220h7v2h-7zM261 220h2v2h-2zM278 220h2v2h-2zM326 220h2v2h-2zM263 222h7v2h-7zM278 222h2v2h-2zM321 222h5v2h-5zM270 224h3v3h-3zM278 224h2v3h-2zM318 224h3v3h-3zM273 227h2v2h-2zM278 227h2v2h-2zM275 229h3v3h-3zM280 229h2v3h-2zM314 229h2v3h-2zM278 232h4v2h-4zM309 232h2v2h-2zM278 234h2v2h-2zM304 234h5v2h-5zM280 236h2v3h-2zM285 236h19v3h-19zM280 241h2v3h-2zM280 244h2v2h-2zM280 246h2v2h-2zM282 248h3v3h-3zM294 248h3v3h-3zM285 251h9v2h-9zM297 251h7v2h-7zM304 253h5v3h-5zM309 256h5v2h-5zM314 258h4v2h-4zM318 260h3v3h-3zM321 263h5v2h-5zM321 265h5v3h-5zM316 268h2v2h-2zM314 270h2v2h-2zM311 272h3v3h-3zM311 275h3v2h-3zM314 280h2v2h-2zM316 282h2v2h-2zM318 284h3v3h-3zM546 284h5v3h-5zM318 287h3v2h-3zM546 287h5v2h-5zM266 292h9v2h-9zM323 292h3v2h-3zM530 292h7v2h-7zM263 294h3v2h-3zM275 294h5v2h-5zM299 294h7v2h-7zM323 294h3v2h-3zM383 294h3v2h-3zM388 294h2v2h-2zM398 294h7v2h-7zM407 294h15v2h-15zM261 296h2v3h-2zM280 296h14v3h-14zM306 296h20v3h-20zM354 296h29v3h-29zM422 296h9v3h-9zM537 296h7v3h-7zM561 296h5v3h-5zM234 299h3v2h-3zM256 299h5v2h-5zM429 299h2v2h-2zM537 299h7v2h-7zM556 299h19v2h-19zM218 301h2v3h-2zM222 301h10v3h-10zM239 301h17v3h-17zM498 301h8v3h-8zM537 301h7v3h-7zM556 301h24v3h-24zM210 304h8v2h-8zM326 304h2v2h-2zM354 304h15v2h-15zM388 304h7v2h-7zM398 304h28v2h-28zM431 304h3v2h-3zM498 304h8v2h-8zM556 304h29v2h-29zM203 306h3v2h-3zM208 306h2v2h-2zM354 306h17v2h-17zM378 306h48v2h-48zM434 306h2v2h-2zM498 306h8v2h-8zM556 306h31v2h-31zM201 308h2v3h-2zM354 308h20v3h-20zM378 308h48v3h-48zM434 308h2v3h-2zM498 308h5v3h-5zM556 308h41v3h-41zM201 311h2v2h-2zM354 311h15v2h-15zM374 311h2v2h-2zM378 311h48v2h-48zM436 311h2v2h-2zM498 311h3v2h-3zM558 311h39v2h-39zM100 313h5v3h-5zM198 313h3v3h-3zM278 313h2v3h-2zM282 313h22v3h-22zM306 313h5v3h-5zM321 313h2v3h-2zM357 313h12v3h-12zM378 313h48v3h-48zM438 313h3v3h-3zM561 313h33v3h-33zM105 316h2v2h-2zM196 316h2v2h-2zM275 316h3v2h-3zM323 316h3v2h-3zM359 316h12v2h-12zM383 316h43v2h-43zM438 316h3v2h-3zM568 316h22v2h-22zM105 318h2v2h-2zM266 318h2v2h-2zM270 318h3v2h-3zM359 318h19v2h-19zM388 318h38v2h-38zM573 318h17v2h-17zM105 320h2v3h-2zM141 320h2v3h-2zM194 320h2v3h-2zM232 320h2v3h-2zM237 320h5v3h-5zM244 320h7v3h-7zM256 320h10v3h-10zM359 320h17v3h-17zM390 320h24v3h-24zM443 320h3v3h-3zM575 320h19v3h-19zM105 323h2v2h-2zM143 323h3v2h-3zM215 323h12v2h-12zM230 323h2v2h-2zM359 323h15v2h-15zM395 323h15v2h-15zM446 323h2v2h-2zM580 323h19v2h-19zM102 325h3v3h-3zM134 325h2v3h-2zM143 325h3v3h-3zM194 325h4v3h-4zM208 325h5v3h-5zM362 325h9v3h-9zM395 325h12v3h-12zM448 325h2v3h-2zM453 325h2v3h-2zM465 325h5v3h-5zM134 328h2v2h-2zM143 328h3v2h-3zM191 328h3v2h-3zM198 328h10v2h-10zM398 328h4v2h-4zM455 328h10v2h-10zM472 328h2v2h-2zM136 330h2v2h-2zM146 330h2v2h-2zM189 330h2v2h-2zM196 330h2v2h-2zM398 330h2v2h-2zM143 332h3v3h-3zM148 332h2v3h-2zM191 332h5v3h-5zM398 332h2v3h-2zM474 332h3v3h-3zM143 335h3v2h-3zM148 335h2v2h-2zM306 335h3v2h-3zM398 335h4v2h-4zM477 335h2v2h-2zM146 337h2v3h-2zM306 337h3v3h-3zM398 337h7v3h-7zM477 337h2v3h-2zM306 340h3v2h-3zM398 340h28v2h-28zM477 340h2v2h-2zM306 342h3v2h-3zM400 342h26v2h-26zM479 342h3v2h-3zM306 344h3v3h-3zM402 344h17v3h-17zM482 344h2v3h-2zM306 347h3v2h-3zM306 349h3v3h-3zM486 349h5v3h-5zM227 352h7v2h-7zM237 352h2v2h-2zM306 352h3v2h-3zM491 352h3v2h-3zM225 354h2v2h-2zM234 354h3v2h-3zM306 354h3v2h-3zM491 354h3v2h-3zM227 356h3v3h-3zM234 356h3v3h-3zM494 356h2v3h-2zM230 359h4v2h-4zM239 359h3v2h-3zM474 359h12v2h-12zM491 359h3v2h-3zM486 361h8v3h-8zM242 364h2v2h-2zM470 364h2v2h-2zM244 366h2v2h-2zM462 371h3v2h-3zM460 373h2v3h-2zM100 376h2v2h-2zM263 376h3v2h-3zM462 376h3v2h-3zM102 378h3v2h-3zM237 378h7v2h-7zM465 378h5v2h-5zM105 380h12v3h-12zM122 380h7v3h-7zM232 380h5v3h-5zM244 380h2v3h-2zM278 380h2v3h-2zM470 380h2v3h-2zM129 383h5v2h-5zM230 383h2v2h-2zM246 383h3v2h-3zM278 383h2v2h-2zM472 383h2v2h-2zM134 385h2v3h-2zM148 385h46v3h-46zM222 385h8v3h-8zM249 385h2v3h-2zM280 385h2v3h-2zM474 385h3v3h-3zM182 388h24v2h-24zM220 388h2v2h-2zM251 388h3v2h-3zM292 388h2v2h-2zM477 388h2v2h-2zM196 390h7v2h-7zM251 390h3v2h-3zM477 390h2v2h-2zM254 392h2v3h-2zM479 392h3v3h-3zM254 395h2v2h-2zM374 395h2v2h-2zM482 395h2v2h-2zM254 397h2v3h-2zM376 397h2v3h-2zM482 397h2v3h-2zM256 400h2v2h-2zM299 400h3v2h-3zM374 400h2v2h-2zM484 400h2v2h-2zM256 402h2v2h-2zM297 402h2v2h-2zM304 402h5v2h-5zM321 402h2v2h-2zM486 402h3v2h-3zM258 404h3v3h-3zM297 404h2v3h-2zM309 404h5v3h-5zM323 404h5v3h-5zM362 404h2v3h-2zM489 404h2v3h-2zM261 407h2v2h-2zM297 407h2v2h-2zM314 407h2v2h-2zM347 407h3v2h-3zM357 407h5v2h-5zM491 407h3v2h-3zM263 409h3v3h-3zM297 409h2v3h-2zM318 409h5v3h-5zM345 409h2v3h-2zM491 409h3v3h-3zM266 412h2v2h-2zM299 412h3v2h-3zM323 412h3v2h-3zM299 414h3v2h-3zM326 414h2v2h-2zM489 414h2v2h-2zM270 416h3v3h-3zM299 416h3v3h-3zM328 416h2v3h-2zM486 416h3v3h-3zM270 419h3v2h-3zM299 419h3v2h-3zM330 419h3v2h-3zM484 419h2v2h-2zM273 421h2v3h-2zM299 421h3v3h-3zM333 421h5v3h-5zM484 421h2v3h-2zM273 424h2v2h-2zM299 424h3v2h-3zM338 424h14v2h-14zM484 424h2v2h-2zM275 426h3v2h-3zM299 426h3v2h-3zM352 426h7v2h-7zM489 426h5v2h-5zM278 428h2v3h-2zM299 428h3v3h-3zM359 428h3v3h-3zM494 428h2v3h-2zM278 431h2v2h-2zM299 431h3v2h-3zM362 431h2v2h-2zM498 431h3v2h-3zM280 433h5v3h-5zM297 433h2v3h-2zM362 433h2v3h-2zM501 433h2v3h-2zM285 436h14v2h-14zM362 436h2v2h-2zM503 436h3v2h-3zM364 438h2v2h-2zM503 438h3v2h-3zM441 440h5v3h-5zM506 440h2v3h-2zM438 443h3v2h-3zM508 443h2v2h-2zM448 445h2v3h-2zM508 445h2v3h-2zM450 448h3v2h-3zM510 448h3v2h-3zM453 450h2v2h-2zM510 450h3v2h-3zM311 452h10v3h-10zM453 452h2v3h-2zM513 452h2v3h-2zM316 455h12v2h-12zM455 455h3v2h-3zM513 455h2v2h-2zM321 457h12v3h-12zM458 457h2v3h-2zM513 457h2v3h-2zM326 460h9v2h-9zM460 460h2v2h-2zM510 460h3v2h-3zM330 462h5v2h-5zM407 462h3v2h-3zM460 462h2v2h-2zM510 462h3v2h-3zM362 464h2v3h-2zM410 464h2v3h-2zM462 464h3v3h-3zM479 464h3v3h-3zM484 464h2v3h-2zM508 464h2v3h-2zM364 467h2v2h-2zM376 467h2v2h-2zM465 467h2v2h-2zM477 467h2v2h-2zM486 467h3v2h-3zM366 469h3v3h-3zM371 469h5v3h-5zM467 469h3v3h-3zM474 469h3v3h-3zM489 469h5v3h-5zM506 469h2v3h-2zM374 472h2v2h-2zM467 472h7v2h-7zM494 472h2v2h-2zM501 472h5v2h-5zM498 474h3v2h-3zM474 484h3v2h-3zM388 488h5v3h-5zM386 491h2v2h-2zM393 491h7v2h-7zM388 493h2v3h-2zM393 493h2v3h-2zM506 493h2v3h-2zM395 496h5v2h-5zM510 496h3v2h-3zM340 498h14v2h-14zM515 498h3v2h-3zM338 500h2v3h-2zM400 500h12v3h-12zM335 503h3v2h-3zM352 503h2v2h-2zM400 503h19v2h-19zM477 503h2v2h-2zM352 505h2v3h-2zM400 505h22v3h-22zM335 508h3v2h-3zM350 508h2v2h-2zM402 508h22v2h-22z"/>
<path fill="#fce0cf" d="M196 121h2v3h-2zM203 121h3v3h-3zM196 124h2v2h-2zM208 124h2v2h-2zM196 126h2v2h-2zM210 126h3v2h-3zM213 128h2v3h-2zM194 133h2v3h-2zM213 133h2v3h-2zM189 138h2v2h-2zM213 138h2v2h-2zM189 140h2v3h-2zM213 140h2v3h-2zM213 143h2v2h-2zM213 145h2v3h-2zM191 148h3v2h-3zM213 148h2v2h-2zM100 150h7v2h-7zM194 150h4v2h-4zM201 150h2v2h-2zM201 152h2v3h-2zM110 155h2v2h-2zM201 155h2v2h-2zM213 155h2v2h-2zM112 157h2v3h-2zM203 157h3v3h-3zM114 160h3v2h-3zM203 160h3v2h-3zM213 160h2v2h-2zM117 162h5v2h-5zM206 162h2v2h-2zM210 162h3v2h-3zM122 164h2v3h-2zM208 164h2v3h-2zM126 167h3v2h-3zM129 169h2v3h-2zM131 172h3v2h-3zM134 174h4v2h-4zM138 176h3v3h-3zM220 176h10v3h-10zM141 179h5v2h-5zM227 179h3v2h-3zM146 181h2v3h-2zM227 181h5v3h-5zM150 184h3v2h-3zM230 184h2v2h-2zM153 186h5v2h-5zM232 186h2v2h-2zM158 188h4v3h-4zM170 191h2v2h-2zM170 196h2v2h-2zM239 196h3v2h-3zM167 198h3v2h-3zM242 198h4v2h-4zM170 200h2v3h-2zM246 200h3v3h-3zM170 203h2v2h-2zM170 208h2v2h-2zM172 210h2v2h-2zM225 210h12v2h-12zM239 210h15v2h-15zM285 210h5v2h-5zM316 210h2v2h-2zM321 210h9v2h-9zM333 210h2v2h-2zM210 212h10v3h-10zM254 212h2v3h-2zM282 212h3v3h-3zM294 212h8v3h-8zM304 212h7v3h-7zM335 212h5v3h-5zM174 215h3v2h-3zM186 215h3v2h-3zM194 215h16v2h-16zM256 215h2v2h-2zM278 215h2v2h-2zM335 215h3v2h-3zM177 217h5v3h-5zM184 217h2v3h-2zM278 217h2v3h-2zM330 217h5v3h-5zM263 220h3v2h-3zM268 220h2v2h-2zM275 220h3v2h-3zM328 220h2v2h-2zM270 222h3v2h-3zM275 222h3v2h-3zM275 224h3v3h-3zM321 224h5v3h-5zM275 227h3v2h-3zM318 227h3v2h-3zM278 229h2v3h-2zM316 229h2v3h-2zM314 232h2v2h-2zM280 234h2v2h-2zM311 234h3v2h-3zM304 236h5v3h-5zM285 239h14v2h-14zM302 239h2v2h-2zM282 241h3v3h-3zM282 244h3v2h-3zM282 246h3v2h-3zM294 246h3v2h-3zM292 248h2v3h-2zM297 248h2v3h-2zM302 248h2v3h-2zM306 251h3v2h-3zM309 253h5v3h-5zM314 256h2v2h-2zM318 258h3v2h-3zM321 260h2v3h-2zM326 263h2v2h-2zM326 265h2v3h-2zM321 268h5v2h-5zM316 270h5v2h-5zM314 272h2v3h-2zM314 275h2v2h-2zM316 280h2v2h-2zM318 282h3v2h-3zM323 289h3v3h-3zM527 289h15v3h-15zM326 292h2v2h-2zM383 292h15v2h-15zM400 292h19v2h-19zM527 292h3v2h-3zM537 292h5v2h-5zM266 294h9v2h-9zM326 294h2v2h-2zM354 294h15v2h-15zM371 294h12v2h-12zM422 294h7v2h-7zM496 294h10v2h-10zM532 294h12v2h-12zM263 296h3v3h-3zM275 296h5v3h-5zM299 296h5v3h-5zM326 296h2v3h-2zM352 296h2v3h-2zM431 296h3v3h-3zM491 296h17v3h-17zM261 299h2v2h-2zM280 299h7v2h-7zM292 299h7v2h-7zM306 299h3v2h-3zM311 299h10v2h-10zM323 299h3v2h-3zM333 299h21v2h-21zM431 299h3v2h-3zM486 299h22v2h-22zM510 299h20v2h-20zM234 301h5v3h-5zM256 301h5v3h-5zM326 301h2v3h-2zM333 301h21v3h-21zM434 301h2v3h-2zM486 301h12v3h-12zM506 301h2v3h-2zM513 301h24v3h-24zM218 304h4v2h-4zM225 304h7v2h-7zM239 304h3v2h-3zM244 304h5v2h-5zM323 304h3v2h-3zM328 304h26v2h-26zM434 304h2v2h-2zM486 304h12v2h-12zM513 304h29v2h-29zM112 306h10v2h-10zM213 306h5v2h-5zM316 306h10v2h-10zM328 306h26v2h-26zM436 306h2v2h-2zM486 306h12v2h-12zM513 306h31v2h-31zM112 308h12v3h-12zM203 308h7v3h-7zM306 308h20v3h-20zM328 308h22v3h-22zM436 308h2v3h-2zM486 308h12v3h-12zM515 308h27v3h-27zM112 311h12v2h-12zM203 311h3v2h-3zM278 311h14v2h-14zM294 311h15v2h-15zM311 311h15v2h-15zM328 311h17v2h-17zM369 311h5v2h-5zM438 311h3v2h-3zM486 311h12v2h-12zM518 311h24v2h-24zM114 313h8v3h-8zM273 313h5v3h-5zM323 313h3v3h-3zM369 313h9v3h-9zM486 313h12v3h-12zM520 313h5v3h-5zM100 316h5v2h-5zM198 316h3v2h-3zM266 316h7v2h-7zM371 316h7v2h-7zM474 316h5v2h-5zM486 316h10v2h-10zM102 318h3v2h-3zM198 318h3v2h-3zM232 318h7v2h-7zM242 318h21v2h-21zM443 318h3v2h-3zM472 318h7v2h-7zM491 318h3v2h-3zM102 320h3v3h-3zM138 320h3v3h-3zM196 320h2v3h-2zM215 320h3v3h-3zM220 320h5v3h-5zM230 320h2v3h-2zM414 320h12v3h-12zM446 320h2v3h-2zM470 320h9v3h-9zM100 323h5v2h-5zM138 323h5v2h-5zM208 323h7v2h-7zM410 323h16v2h-16zM450 323h3v2h-3zM467 323h12v2h-12zM141 325h2v3h-2zM198 325h3v3h-3zM203 325h5v3h-5zM407 325h19v3h-19zM455 325h5v3h-5zM474 325h5v3h-5zM136 328h2v2h-2zM141 328h2v2h-2zM194 328h4v2h-4zM402 328h24v2h-24zM474 328h3v2h-3zM138 330h3v2h-3zM191 330h5v2h-5zM402 330h24v2h-24zM477 330h2v2h-2zM402 332h24v3h-24zM477 332h2v3h-2zM146 335h2v2h-2zM402 335h24v2h-24zM405 337h21v3h-21zM479 337h3v3h-3zM249 340h7v2h-7zM242 342h7v2h-7zM256 342h5v2h-5zM482 342h2v2h-2zM242 344h2v3h-2zM258 344h5v3h-5zM326 344h2v3h-2zM239 347h3v2h-3zM263 347h5v2h-5zM321 347h9v2h-9zM486 347h5v2h-5zM237 349h2v3h-2zM268 349h5v3h-5zM318 349h17v3h-17zM491 349h3v3h-3zM273 352h2v2h-2zM321 352h12v2h-12zM494 352h2v2h-2zM227 354h7v2h-7zM239 354h3v2h-3zM275 354h5v2h-5zM321 354h12v2h-12zM230 356h2v3h-2zM239 356h3v3h-3zM280 356h5v3h-5zM321 356h12v3h-12zM496 356h2v3h-2zM242 359h2v2h-2zM285 359h9v2h-9zM321 359h12v2h-12zM494 359h2v2h-2zM242 361h2v3h-2zM294 361h8v3h-8zM474 361h3v3h-3zM482 361h4v3h-4zM244 364h2v2h-2zM302 364h2v2h-2zM472 364h2v2h-2zM486 364h3v2h-3zM491 364h3v2h-3zM246 366h3v2h-3zM304 366h7v2h-7zM470 366h2v2h-2zM249 368h2v3h-2zM304 368h14v3h-14zM467 368h3v3h-3zM251 371h5v2h-5zM306 371h22v2h-22zM465 371h2v2h-2zM256 373h10v3h-10zM309 373h24v3h-24zM462 373h3v3h-3zM266 376h7v2h-7zM316 376h31v2h-31zM465 376h5v2h-5zM100 378h2v2h-2zM273 378h7v2h-7zM321 378h31v2h-31zM470 378h2v2h-2zM102 380h3v3h-3zM237 380h7v3h-7zM280 380h2v3h-2zM326 380h31v3h-31zM472 380h2v3h-2zM107 383h3v2h-3zM112 383h10v2h-10zM126 383h3v2h-3zM232 383h5v2h-5zM244 383h2v2h-2zM282 383h5v2h-5zM328 383h31v2h-31zM474 383h3v2h-3zM129 385h5v3h-5zM230 385h2v3h-2zM246 385h3v3h-3zM287 385h7v3h-7zM330 385h32v3h-32zM477 385h2v3h-2zM134 388h2v2h-2zM143 388h39v2h-39zM206 388h4v2h-4zM222 388h5v2h-5zM249 388h2v2h-2zM294 388h5v2h-5zM330 388h34v2h-34zM136 390h60v2h-60zM203 390h22v2h-22zM242 390h4v2h-4zM299 390h3v2h-3zM330 390h36v2h-36zM479 390h3v2h-3zM179 392h41v3h-41zM239 392h7v3h-7zM251 392h3v3h-3zM302 392h2v3h-2zM330 392h39v3h-39zM482 392h2v3h-2zM189 395h17v2h-17zM239 395h10v2h-10zM251 395h3v2h-3zM302 395h14v2h-14zM333 395h41v2h-41zM484 395h2v2h-2zM242 397h7v3h-7zM302 397h21v3h-21zM330 397h46v3h-46zM460 397h7v3h-7zM484 397h2v3h-2zM242 400h7v2h-7zM254 400h2v2h-2zM302 400h72v2h-72zM458 400h2v2h-2zM467 400h3v2h-3zM486 400h3v2h-3zM244 402h5v2h-5zM254 402h2v2h-2zM299 402h3v2h-3zM323 402h48v2h-48zM460 402h2v2h-2zM467 402h3v2h-3zM489 402h2v2h-2zM246 404h3v3h-3zM256 404h2v3h-2zM299 404h3v3h-3zM306 404h3v3h-3zM335 404h27v3h-27zM460 404h10v3h-10zM491 404h3v3h-3zM299 407h3v2h-3zM309 407h5v2h-5zM342 407h5v2h-5zM494 407h2v2h-2zM261 409h2v3h-2zM299 409h3v3h-3zM314 409h4v3h-4zM494 409h2v3h-2zM302 412h2v2h-2zM318 412h5v2h-5zM491 412h3v2h-3zM266 414h2v2h-2zM323 414h3v2h-3zM491 414h3v2h-3zM268 416h2v3h-2zM489 416h2v3h-2zM302 419h2v2h-2zM328 419h2v2h-2zM486 419h3v2h-3zM270 421h3v3h-3zM302 421h2v3h-2zM330 421h3v3h-3zM486 421h3v3h-3zM333 424h2v2h-2zM486 424h8v2h-8zM273 426h2v2h-2zM302 426h2v2h-2zM338 426h2v2h-2zM347 426h5v2h-5zM494 426h4v2h-4zM275 428h3v3h-3zM302 428h2v3h-2zM352 428h7v3h-7zM275 431h3v2h-3zM302 431h2v2h-2zM501 431h2v2h-2zM278 433h2v3h-2zM299 433h3v3h-3zM359 433h3v3h-3zM503 433h3v3h-3zM280 436h2v2h-2zM299 436h3v2h-3zM359 436h3v2h-3zM506 436h2v2h-2zM285 438h7v2h-7zM294 438h5v2h-5zM362 438h2v2h-2zM429 438h5v2h-5zM506 438h2v2h-2zM333 440h5v3h-5zM362 440h4v3h-4zM426 440h12v3h-12zM508 440h2v3h-2zM330 443h8v2h-8zM362 443h4v2h-4zM369 443h9v2h-9zM424 443h14v2h-14zM441 443h5v2h-5zM510 443h3v2h-3zM323 445h17v3h-17zM359 445h19v3h-19zM422 445h19v3h-19zM446 445h2v3h-2zM510 445h3v3h-3zM316 448h29v2h-29zM352 448h26v2h-26zM422 448h16v2h-16zM448 448h2v2h-2zM314 450h64v2h-64zM422 450h14v2h-14zM443 450h3v2h-3zM513 450h2v2h-2zM321 452h57v3h-57zM424 452h12v3h-12zM446 452h2v3h-2zM450 452h3v3h-3zM515 452h3v3h-3zM328 455h50v2h-50zM424 455h12v2h-12zM448 455h2v2h-2zM453 455h2v2h-2zM515 455h3v2h-3zM333 457h45v3h-45zM426 457h10v3h-10zM448 457h5v3h-5zM515 457h3v3h-3zM335 460h12v2h-12zM354 460h8v2h-8zM371 460h7v2h-7zM426 460h10v2h-10zM450 460h3v2h-3zM458 460h2v2h-2zM359 462h3v2h-3zM374 462h4v2h-4zM429 462h7v2h-7zM450 462h5v2h-5zM513 462h2v2h-2zM359 464h3v3h-3zM378 464h32v3h-32zM429 464h9v3h-9zM453 464h5v3h-5zM460 464h2v3h-2zM378 467h22v2h-22zM402 467h20v2h-20zM429 467h9v2h-9zM453 467h7v2h-7zM462 467h3v2h-3zM479 467h7v2h-7zM364 469h2v3h-2zM376 469h2v3h-2zM386 469h52v3h-52zM455 469h7v3h-7zM465 469h2v3h-2zM477 469h2v3h-2zM486 469h3v3h-3zM508 469h2v3h-2zM366 472h8v2h-8zM388 472h7v2h-7zM400 472h41v2h-41zM455 472h7v2h-7zM465 472h2v2h-2zM489 472h5v2h-5zM506 472h2v2h-2zM374 474h2v2h-2zM400 474h24v2h-24zM467 474h3v2h-3zM472 474h2v2h-2zM494 474h2v2h-2zM501 474h5v2h-5zM400 476h14v3h-14zM496 476h5v3h-5zM400 479h12v2h-12zM484 479h7v2h-7zM400 481h10v3h-10zM474 481h10v3h-10zM491 481h5v3h-5zM400 484h10v2h-10zM496 484h5v2h-5zM388 486h5v2h-5zM400 486h7v2h-7zM472 486h2v2h-2zM498 486h3v2h-3zM386 488h2v3h-2zM393 488h5v3h-5zM400 488h7v3h-7zM472 488h2v3h-2zM501 488h2v3h-2zM383 491h3v2h-3zM400 491h5v2h-5zM472 491h2v2h-2zM503 491h5v2h-5zM386 493h2v3h-2zM400 493h5v3h-5zM472 493h2v3h-2zM508 493h2v3h-2zM340 496h2v2h-2zM345 496h9v2h-9zM388 496h7v2h-7zM400 496h10v2h-10zM472 496h2v2h-2zM513 496h5v2h-5zM338 498h2v2h-2zM354 498h3v2h-3zM395 498h19v2h-19zM472 498h2v2h-2zM518 498h2v2h-2zM335 500h3v3h-3zM357 500h2v3h-2zM412 500h7v3h-7zM474 500h3v3h-3zM520 500h2v3h-2zM333 503h2v2h-2zM354 503h3v2h-3zM419 503h7v2h-7zM520 503h2v2h-2zM333 505h2v3h-2zM354 505h3v3h-3zM422 505h12v3h-12zM477 505h2v3h-2zM522 505h3v3h-3zM333 508h2v2h-2zM352 508h2v2h-2zM400 508h2v2h-2zM424 508h10v2h-10zM479 508h3v2h-3zM522 508h3v2h-3z"/>
<path fill="#f7f7f7" d="M134 37h21v3h-21zM129 40h33v2h-33zM126 42h44v2h-44zM122 44h55v3h-55zM119 47h60v2h-60zM114 49h68v3h-68zM112 52h74v2h-74zM110 54h76v2h-76zM105 56h84v3h-84zM100 59h89v2h-89zM100 61h91v3h-91zM100 64h94v2h-94zM100 66h94v2h-94zM100 68h96v3h-96zM100 71h96v2h-96zM100 73h96v3h-96zM100 76h96v2h-96zM100 78h96v2h-96zM100 80h94v3h-94zM100 83h94v2h-94zM100 85h91v3h-91zM100 88h2v2h-2zM112 88h74v2h-74zM141 90h41v2h-41zM150 92h27v3h-27zM155 95h17v2h-17zM196 119h2v2h-2zM203 119h3v2h-3zM194 121h2v3h-2zM201 121h2v3h-2zM208 121h2v3h-2zM194 124h2v2h-2zM206 124h2v2h-2zM210 124h3v2h-3zM213 126h2v2h-2zM196 128h2v3h-2zM215 128h3v3h-3zM194 131h2v2h-2zM213 131h2v2h-2zM215 133h3v3h-3zM189 136h2v2h-2zM213 136h2v2h-2zM186 138h3v2h-3zM186 140h3v3h-3zM215 140h3v3h-3zM189 143h2v2h-2zM215 143h3v2h-3zM215 145h3v3h-3zM100 148h7v2h-7zM215 148h5v2h-5zM107 150h24v2h-24zM191 150h3v2h-3zM213 150h7v2h-7zM107 152h24v3h-24zM194 152h4v3h-4zM213 152h7v3h-7zM112 155h19v2h-19zM198 155h3v2h-3zM215 155h5v2h-5zM114 157h17v3h-17zM201 157h2v3h-2zM213 157h9v3h-9zM117 160h14v2h-14zM201 160h2v2h-2zM215 160h7v2h-7zM122 162h9v2h-9zM203 162h3v2h-3zM213 162h9v2h-9zM124 164h10v3h-10zM206 164h2v3h-2zM210 164h12v3h-12zM124 167h2v2h-2zM129 167h12v2h-12zM210 167h12v2h-12zM131 169h12v3h-12zM213 169h12v3h-12zM134 172h12v2h-12zM215 172h34v2h-34zM138 174h10v2h-10zM218 174h40v2h-40zM141 176h9v3h-9zM230 176h28v3h-28zM146 179h7v2h-7zM222 179h5v2h-5zM230 179h19v2h-19zM148 181h10v3h-10zM225 181h2v3h-2zM232 181h14v3h-14zM148 184h2v2h-2zM153 184h7v2h-7zM232 184h12v2h-12zM249 184h2v2h-2zM158 186h7v2h-7zM230 186h2v2h-2zM234 186h24v2h-24zM270 186h20v2h-20zM162 188h3v3h-3zM167 188h5v3h-5zM232 188h62v3h-62zM234 191h3v2h-3zM258 191h32v2h-32zM170 193h2v3h-2zM237 193h2v3h-2zM256 193h24v3h-24zM172 196h2v2h-2zM189 196h2v2h-2zM256 196h17v2h-17zM170 198h2v2h-2zM186 198h8v2h-8zM206 198h4v2h-4zM239 198h3v2h-3zM256 198h12v2h-12zM172 200h7v3h-7zM186 200h27v3h-27zM244 200h2v3h-2zM254 200h14v3h-14zM172 203h43v2h-43zM244 203h5v2h-5zM254 203h19v2h-19zM170 205h48v3h-48zM244 205h7v3h-7zM254 205h21v3h-21zM172 208h48v2h-48zM244 208h36v2h-36zM285 208h5v2h-5zM323 208h3v2h-3zM333 208h2v2h-2zM174 210h51v2h-51zM237 210h2v2h-2zM254 210h28v2h-28zM290 210h2v2h-2zM294 210h5v2h-5zM304 210h2v2h-2zM309 210h2v2h-2zM314 210h2v2h-2zM318 210h3v2h-3zM335 210h5v2h-5zM172 212h38v3h-38zM220 212h2v3h-2zM256 212h26v3h-26zM292 212h2v3h-2zM302 212h2v3h-2zM340 212h2v3h-2zM177 215h9v2h-9zM189 215h5v2h-5zM258 215h20v2h-20zM338 215h2v2h-2zM182 217h2v3h-2zM261 217h17v3h-17zM335 217h3v3h-3zM266 220h2v2h-2zM270 220h5v2h-5zM330 220h3v2h-3zM273 222h2v2h-2zM326 222h4v2h-4zM273 224h2v3h-2zM326 224h2v3h-2zM321 227h5v2h-5zM318 229h3v3h-3zM316 232h2v2h-2zM309 234h2v2h-2zM314 234h2v2h-2zM309 236h5v3h-5zM299 239h3v2h-3zM304 239h5v2h-5zM285 241h21v3h-21zM285 244h17v2h-17zM285 246h9v2h-9zM297 246h2v2h-2zM285 248h7v3h-7zM299 248h3v3h-3zM304 248h5v3h-5zM304 251h2v2h-2zM309 251h2v2h-2zM314 253h2v3h-2zM321 258h2v2h-2zM326 260h2v3h-2zM328 263h2v2h-2zM328 265h2v3h-2zM326 268h4v2h-4zM321 270h19v2h-19zM316 272h31v3h-31zM316 275h38v2h-38zM316 277h46v3h-46zM318 280h46v2h-46zM321 282h45v2h-45zM321 284h45v3h-45zM321 287h48v2h-48zM479 287h17v2h-17zM530 287h9v2h-9zM544 287h2v2h-2zM326 289h43v3h-43zM429 289h2v3h-2zM477 289h21v3h-21zM506 289h4v3h-4zM525 289h2v3h-2zM542 289h9v3h-9zM328 292h41v2h-41zM426 292h10v2h-10zM472 292h41v2h-41zM525 292h2v2h-2zM542 292h9v2h-9zM328 294h26v2h-26zM369 294h2v2h-2zM429 294h9v2h-9zM470 294h26v2h-26zM506 294h9v2h-9zM525 294h7v2h-7zM544 294h7v2h-7zM561 294h2v2h-2zM266 296h9v3h-9zM328 296h24v3h-24zM434 296h12v3h-12zM462 296h29v3h-29zM508 296h29v3h-29zM544 296h7v3h-7zM554 296h7v3h-7zM566 296h9v3h-9zM263 299h17v2h-17zM287 299h3v2h-3zM299 299h7v2h-7zM309 299h2v2h-2zM321 299h2v2h-2zM326 299h7v2h-7zM434 299h4v2h-4zM448 299h38v2h-38zM508 299h2v2h-2zM530 299h7v2h-7zM544 299h5v2h-5zM554 299h2v2h-2zM575 299h5v2h-5zM232 301h2v3h-2zM261 301h38v3h-38zM323 301h3v3h-3zM328 301h5v3h-5zM436 301h2v3h-2zM450 301h36v3h-36zM508 301h5v3h-5zM544 301h5v3h-5zM554 301h2v3h-2zM580 301h5v3h-5zM232 304h7v2h-7zM249 304h2v2h-2zM256 304h38v2h-38zM318 304h5v2h-5zM436 304h2v2h-2zM450 304h36v2h-36zM506 304h2v2h-2zM510 304h3v2h-3zM542 304h7v2h-7zM554 304h2v2h-2zM585 304h5v2h-5zM210 306h3v2h-3zM218 306h4v2h-4zM225 306h2v2h-2zM230 306h2v2h-2zM239 306h3v2h-3zM244 306h5v2h-5zM258 306h39v2h-39zM309 306h5v2h-5zM450 306h36v2h-36zM506 306h2v2h-2zM510 306h3v2h-3zM544 306h5v2h-5zM554 306h2v2h-2zM587 306h3v2h-3zM258 308h41v3h-41zM302 308h4v3h-4zM438 308h3v3h-3zM450 308h36v3h-36zM503 308h5v3h-5zM513 308h2v3h-2zM542 308h7v3h-7zM554 308h2v3h-2zM597 308h2v3h-2zM206 311h2v2h-2zM239 311h3v2h-3zM258 311h20v2h-20zM292 311h2v2h-2zM309 311h2v2h-2zM462 311h24v2h-24zM513 311h5v2h-5zM542 311h7v2h-7zM556 311h2v2h-2zM597 311h2v2h-2zM201 313h5v3h-5zM239 313h34v3h-34zM441 313h7v3h-7zM462 313h24v3h-24zM498 313h3v3h-3zM518 313h2v3h-2zM525 313h24v3h-24zM558 313h3v3h-3zM594 313h5v3h-5zM201 316h5v2h-5zM234 316h32v2h-32zM441 316h7v2h-7zM462 316h12v2h-12zM479 316h7v2h-7zM496 316h2v2h-2zM520 316h2v2h-2zM563 316h5v2h-5zM590 316h2v2h-2zM100 318h2v2h-2zM201 318h2v2h-2zM215 318h3v2h-3zM230 318h2v2h-2zM239 318h3v2h-3zM263 318h3v2h-3zM446 318h4v2h-4zM460 318h12v2h-12zM479 318h12v2h-12zM494 318h2v2h-2zM568 318h5v2h-5zM590 318h2v2h-2zM100 320h2v3h-2zM198 320h3v3h-3zM448 320h22v3h-22zM479 320h15v3h-15zM573 320h2v3h-2zM594 320h8v3h-8zM196 323h2v2h-2zM448 323h2v2h-2zM453 323h14v2h-14zM479 323h12v2h-12zM575 323h5v2h-5zM599 323h3v2h-3zM136 325h5v3h-5zM460 325h5v3h-5zM479 325h10v3h-10zM582 325h20v3h-20zM138 328h3v2h-3zM477 328h9v2h-9zM479 330h5v2h-5zM146 332h2v3h-2zM479 332h5v3h-5zM479 335h5v2h-5zM482 337h4v3h-4zM479 340h10v2h-10zM249 342h7v2h-7zM484 342h5v2h-5zM244 344h14v3h-14zM484 344h10v3h-10zM242 347h21v2h-21zM491 347h7v2h-7zM239 349h29v3h-29zM494 349h7v3h-7zM239 352h34v2h-34zM496 352h7v2h-7zM242 354h33v2h-33zM494 354h12v2h-12zM232 356h2v3h-2zM242 356h38v3h-38zM498 356h8v3h-8zM244 359h2v2h-2zM261 359h24v2h-24zM496 359h10v2h-10zM282 361h12v3h-12zM477 361h5v3h-5zM494 361h12v3h-12zM285 364h17v2h-17zM474 364h12v2h-12zM489 364h2v2h-2zM494 364h12v2h-12zM287 366h17v2h-17zM472 366h34v2h-34zM251 368h7v3h-7zM285 368h19v3h-19zM470 368h19v3h-19zM256 371h26v2h-26zM285 371h21v2h-21zM467 371h19v2h-19zM266 373h43v3h-43zM465 373h21v3h-21zM273 376h43v2h-43zM470 376h16v2h-16zM280 378h26v2h-26zM472 378h14v2h-14zM100 380h2v3h-2zM282 380h22v3h-22zM323 380h3v3h-3zM474 380h12v3h-12zM102 383h3v2h-3zM110 383h2v2h-2zM122 383h4v2h-4zM237 383h2v2h-2zM242 383h2v2h-2zM280 383h2v2h-2zM287 383h15v2h-15zM326 383h2v2h-2zM477 383h9v2h-9zM107 385h3v3h-3zM112 385h5v3h-5zM119 385h3v3h-3zM126 385h3v3h-3zM239 385h7v3h-7zM294 385h8v3h-8zM328 385h2v3h-2zM479 385h7v3h-7zM129 388h5v2h-5zM227 388h5v2h-5zM237 388h12v2h-12zM299 388h7v2h-7zM328 388h2v2h-2zM479 388h7v2h-7zM234 390h8v2h-8zM246 390h5v2h-5zM302 390h12v2h-12zM482 390h7v2h-7zM138 392h41v3h-41zM220 392h7v3h-7zM234 392h5v3h-5zM246 392h5v3h-5zM304 392h17v3h-17zM484 392h5v3h-5zM148 395h41v2h-41zM206 395h21v2h-21zM232 395h7v2h-7zM249 395h2v2h-2zM316 395h17v2h-17zM486 395h5v2h-5zM160 397h65v3h-65zM232 397h10v3h-10zM249 397h5v3h-5zM323 397h7v3h-7zM486 397h8v3h-8zM167 400h55v2h-55zM232 400h10v2h-10zM249 400h5v2h-5zM460 400h7v2h-7zM489 400h7v2h-7zM172 402h41v2h-41zM232 402h12v2h-12zM249 402h5v2h-5zM302 402h2v2h-2zM462 402h5v2h-5zM491 402h7v2h-7zM174 404h27v3h-27zM232 404h14v3h-14zM249 404h7v3h-7zM302 404h4v3h-4zM494 404h7v3h-7zM179 407h12v2h-12zM232 407h26v2h-26zM302 407h7v2h-7zM496 407h7v2h-7zM232 409h29v3h-29zM302 409h12v3h-12zM496 409h7v3h-7zM153 412h5v2h-5zM172 412h5v2h-5zM232 412h34v2h-34zM304 412h14v2h-14zM494 412h9v2h-9zM153 414h5v2h-5zM167 414h12v2h-12zM232 414h34v2h-34zM302 414h21v2h-21zM494 414h9v2h-9zM153 416h5v3h-5zM167 416h17v3h-17zM234 416h34v3h-34zM302 416h26v3h-26zM491 416h12v3h-12zM153 419h7v2h-7zM170 419h14v2h-14zM234 419h36v2h-36zM304 419h24v2h-24zM489 419h14v2h-14zM170 421h16v3h-16zM234 421h36v3h-36zM304 421h26v3h-26zM489 421h14v3h-14zM174 424h15v2h-15zM234 424h39v2h-39zM302 424h31v2h-31zM335 424h3v2h-3zM494 424h12v2h-12zM177 426h14v2h-14zM234 426h39v2h-39zM304 426h34v2h-34zM340 426h7v2h-7zM498 426h8v2h-8zM165 428h2v3h-2zM182 428h9v3h-9zM254 428h21v3h-21zM304 428h48v3h-48zM498 428h10v3h-10zM165 431h5v2h-5zM186 431h3v2h-3zM191 431h3v2h-3zM273 431h2v2h-2zM304 431h43v2h-43zM350 431h12v2h-12zM503 431h7v2h-7zM170 433h4v3h-4zM275 433h3v3h-3zM302 433h45v3h-45zM352 433h7v3h-7zM506 433h9v3h-9zM172 436h2v2h-2zM278 436h2v2h-2zM282 436h3v2h-3zM302 436h57v2h-57zM508 436h10v2h-10zM278 438h7v2h-7zM292 438h2v2h-2zM299 438h63v2h-63zM508 438h12v2h-12zM280 440h53v3h-53zM338 440h24v3h-24zM510 440h10v3h-10zM280 443h50v2h-50zM338 443h24v2h-24zM513 443h9v2h-9zM294 445h29v3h-29zM340 445h19v3h-19zM441 445h5v3h-5zM513 445h12v3h-12zM306 448h10v2h-10zM345 448h7v2h-7zM438 448h10v2h-10zM513 448h12v2h-12zM309 450h5v2h-5zM436 450h7v2h-7zM446 450h7v2h-7zM515 450h12v2h-12zM436 452h10v3h-10zM448 452h2v3h-2zM518 452h9v3h-9zM436 455h12v2h-12zM450 455h3v2h-3zM518 455h9v2h-9zM436 457h12v3h-12zM453 457h5v3h-5zM518 457h9v3h-9zM347 460h7v2h-7zM436 460h14v2h-14zM453 460h5v2h-5zM513 460h14v2h-14zM335 462h24v2h-24zM436 462h14v2h-14zM455 462h5v2h-5zM515 462h12v2h-12zM330 464h29v3h-29zM438 464h15v3h-15zM458 464h2v3h-2zM510 464h17v3h-17zM330 467h3v2h-3zM340 467h24v2h-24zM400 467h2v2h-2zM438 467h15v2h-15zM460 467h2v2h-2zM510 467h17v2h-17zM342 469h22v3h-22zM378 469h8v3h-8zM438 469h17v3h-17zM462 469h3v3h-3zM479 469h7v3h-7zM510 469h20v3h-20zM345 472h21v2h-21zM376 472h12v2h-12zM395 472h5v2h-5zM441 472h14v2h-14zM462 472h3v2h-3zM474 472h15v2h-15zM508 472h24v2h-24zM352 474h5v2h-5zM359 474h15v2h-15zM376 474h24v2h-24zM424 474h43v2h-43zM470 474h2v2h-2zM474 474h20v2h-20zM506 474h26v2h-26zM362 476h38v3h-38zM414 476h10v3h-10zM441 476h55v3h-55zM501 476h33v3h-33zM362 479h38v2h-38zM412 479h10v2h-10zM441 479h43v2h-43zM491 479h46v2h-46zM364 481h36v3h-36zM410 481h12v3h-12zM441 481h7v3h-7zM462 481h12v3h-12zM496 481h41v3h-41zM362 484h38v2h-38zM410 484h12v2h-12zM462 484h12v2h-12zM501 484h38v2h-38zM362 486h26v2h-26zM393 486h7v2h-7zM407 486h17v2h-17zM465 486h7v2h-7zM501 486h41v2h-41zM362 488h24v3h-24zM398 488h2v3h-2zM407 488h19v3h-19zM465 488h7v3h-7zM503 488h41v3h-41zM357 491h26v2h-26zM405 491h24v2h-24zM465 491h7v2h-7zM508 491h38v2h-38zM340 493h2v3h-2zM345 493h41v3h-41zM405 493h26v3h-26zM465 493h7v3h-7zM510 493h39v3h-39zM342 496h3v2h-3zM354 496h34v2h-34zM410 496h26v2h-26zM467 496h5v2h-5zM518 496h31v2h-31zM326 498h12v2h-12zM357 498h38v2h-38zM414 498h29v2h-29zM465 498h7v2h-7zM520 498h31v2h-31zM328 500h7v3h-7zM359 500h41v3h-41zM419 500h29v3h-29zM465 500h9v3h-9zM522 500h32v3h-32zM330 503h3v2h-3zM357 503h43v2h-43zM426 503h27v2h-27zM465 503h12v2h-12zM522 503h32v2h-32zM330 505h3v3h-3zM357 505h43v3h-43zM434 505h43v3h-43zM525 505h31v3h-31zM330 508h3v2h-3zM354 508h46v2h-46zM434 508h45v2h-45zM525 508h31v2h-31z"/>
<path fill="#d7e8f1" d="M100 30h118v2h-118zM100 32h118v3h-118zM100 35h118v2h-118zM100 37h34v3h-34zM155 37h63v3h-63zM100 40h29v2h-29zM162 40h56v2h-56zM100 42h26v2h-26zM170 42h48v2h-48zM100 44h22v3h-22zM177 44h41v3h-41zM100 47h19v2h-19zM179 47h39v2h-39zM100 49h14v3h-14zM182 49h36v3h-36zM100 52h12v2h-12zM186 52h32v2h-32zM100 54h10v2h-10zM186 54h32v2h-32zM100 56h5v3h-5zM189 56h29v3h-29zM189 59h29v2h-29zM191 61h27v3h-27zM194 64h24v2h-24zM194 66h26v2h-26zM196 68h24v3h-24zM196 71h26v2h-26zM196 73h26v3h-26zM196 76h26v2h-26zM196 78h26v2h-26zM194 80h28v3h-28zM194 83h28v2h-28zM191 85h29v3h-29zM102 88h10v2h-10zM186 88h34v2h-34zM100 90h41v2h-41zM182 90h36v2h-36zM100 92h50v3h-50zM177 92h38v3h-38zM100 95h55v2h-55zM172 95h43v2h-43zM100 97h113v3h-113zM100 100h110v2h-110zM100 102h108v2h-108zM100 104h106v3h-106zM100 107h103v2h-103zM100 109h96v3h-96zM100 112h24v2h-24zM141 112h24v2h-24zM100 114h17v2h-17zM100 116h14v3h-14zM100 119h12v2h-12zM100 121h10v3h-10zM100 124h5v2h-5zM100 126h2v2h-2zM294 126h32v2h-32zM280 128h46v3h-46zM273 131h50v2h-50zM270 133h41v3h-41zM270 136h27v2h-27zM270 138h17v2h-17zM275 140h5v3h-5zM246 184h3v2h-3zM251 184h3v2h-3zM220 196h17v2h-17zM194 198h2v2h-2zM210 198h29v2h-29zM213 200h31v3h-31zM268 200h2v3h-2zM215 203h29v2h-29zM273 203h2v2h-2zM218 205h26v3h-26zM275 205h5v3h-5zM220 208h24v2h-24zM280 208h5v2h-5zM282 210h3v2h-3zM345 270h5v2h-5zM350 272h12v3h-12zM354 275h15v2h-15zM362 277h14v3h-14zM364 280h43v2h-43zM556 280h2v2h-2zM366 282h51v2h-51zM549 282h14v2h-14zM366 284h58v3h-58zM551 284h17v3h-17zM369 287h57v2h-57zM551 287h22v2h-22zM369 289h60v3h-60zM551 289h27v3h-27zM369 292h14v2h-14zM398 292h2v2h-2zM419 292h7v2h-7zM551 292h31v2h-31zM551 294h10v2h-10zM563 294h27v2h-27zM551 296h3v3h-3zM575 296h22v3h-22zM438 299h10v2h-10zM549 299h5v2h-5zM580 299h19v2h-19zM299 301h24v3h-24zM438 301h12v3h-12zM549 301h5v3h-5zM585 301h19v3h-19zM294 304h24v2h-24zM438 304h12v2h-12zM549 304h5v2h-5zM590 304h26v2h-26zM633 304h5v2h-5zM297 306h12v2h-12zM438 306h12v2h-12zM549 306h5v2h-5zM590 306h50v2h-50zM210 308h29v3h-29zM441 308h9v3h-9zM551 308h3v3h-3zM599 308h46v3h-46zM208 311h2v2h-2zM227 311h12v2h-12zM441 311h7v2h-7zM554 311h2v2h-2zM599 311h48v2h-48zM206 313h2v3h-2zM225 313h14v3h-14zM599 313h53v3h-53zM225 316h9v2h-9zM592 316h62v2h-62zM203 318h3v2h-3zM218 318h12v2h-12zM592 318h65v2h-65zM201 320h7v3h-7zM210 320h5v3h-5zM570 320h3v3h-3zM602 320h60v3h-60zM198 323h10v2h-10zM602 323h62v2h-62zM201 325h2v3h-2zM580 325h2v3h-2zM602 325h64v3h-64zM585 328h84v2h-84zM599 330h72v2h-72zM602 332h72v3h-72zM604 335h70v2h-70zM606 337h70v3h-70zM606 340h72v2h-72zM609 342h72v2h-72zM611 344h70v3h-70zM611 347h70v2h-70zM614 349h69v3h-69zM614 352h69v2h-69zM614 354h67v2h-67zM614 356h67v3h-67zM246 359h15v2h-15zM616 359h65v2h-65zM244 361h38v3h-38zM616 361h65v3h-65zM246 364h39v2h-39zM618 364h63v2h-63zM249 366h38v2h-38zM621 366h60v2h-60zM258 368h27v3h-27zM621 368h57v3h-57zM282 371h3v2h-3zM623 371h53v2h-53zM626 373h50v3h-50zM628 376h46v2h-46zM306 378h15v2h-15zM628 378h43v2h-43zM304 380h19v3h-19zM633 380h38v3h-38zM302 383h24v2h-24zM635 383h31v2h-31zM302 385h26v3h-26zM640 385h22v3h-22zM306 388h22v2h-22zM645 388h9v2h-9zM314 390h16v2h-16zM321 392h9v3h-9zM347 431h3v2h-3zM347 433h5v3h-5zM306 452h5v3h-5zM302 455h14v2h-14zM285 457h36v3h-36zM302 460h24v2h-24zM311 462h19v2h-19zM314 464h16v3h-16zM316 467h14v2h-14zM297 474h9v2h-9zM292 476h19v3h-19zM292 479h22v2h-22zM292 481h24v3h-24zM294 484h27v2h-27zM294 486h29v2h-29zM299 488h27v3h-27zM311 491h15v2h-15zM316 493h7v3h-7z"/>
<path fill="#6aacd0" d="M270 30h77v2h-77zM515 30h82v2h-82zM268 32h65v3h-65zM515 32h82v3h-82zM263 35h55v2h-55zM518 35h76v2h-76zM263 37h51v3h-51zM522 37h63v3h-63zM261 40h48v2h-48zM525 40h60v2h-60zM256 42h48v2h-48zM527 42h67v2h-67zM599 42h5v2h-5zM251 44h48v3h-48zM527 44h79v3h-79zM254 47h43v2h-43zM530 47h16v2h-16zM549 47h57v2h-57zM254 49h38v3h-38zM534 49h12v3h-12zM556 49h50v3h-50zM256 52h31v2h-31zM537 52h9v2h-9zM566 52h43v2h-43zM256 54h26v2h-26zM539 54h10v2h-10zM570 54h39v2h-39zM256 56h26v3h-26zM544 56h7v3h-7zM570 56h32v3h-32zM256 59h24v2h-24zM549 59h5v2h-5zM573 59h31v2h-31zM256 61h24v3h-24zM551 61h3v3h-3zM580 61h26v3h-26zM254 64h26v2h-26zM585 64h14v2h-14zM254 66h26v2h-26zM590 66h9v2h-9zM254 68h26v3h-26zM592 68h7v3h-7zM251 71h29v2h-29zM249 73h31v3h-31zM246 76h34v2h-34zM246 78h34v2h-34zM244 80h36v3h-36zM242 83h38v2h-38zM242 85h38v3h-38zM242 88h38v2h-38zM242 90h38v2h-38zM580 90h2v2h-2zM242 92h38v3h-38zM580 92h7v3h-7zM244 95h36v2h-36zM580 95h12v2h-12zM246 97h32v3h-32zM578 97h14v3h-14zM249 100h24v2h-24zM573 100h9v2h-9zM585 100h7v2h-7zM251 102h17v2h-17zM570 102h12v2h-12zM568 104h14v3h-14zM568 107h17v2h-17zM568 109h17v3h-17zM515 112h22v2h-22zM570 112h15v2h-15zM513 114h24v2h-24zM573 114h9v2h-9zM510 116h29v3h-29zM573 116h9v3h-9zM508 119h26v2h-26zM575 119h7v2h-7zM503 121h29v3h-29zM575 121h10v3h-10zM498 124h34v2h-34zM575 124h10v2h-10zM491 126h39v2h-39zM573 126h12v2h-12zM491 128h39v3h-39zM575 128h12v3h-12zM489 131h41v2h-41zM580 131h5v2h-5zM486 133h41v3h-41zM484 136h43v2h-43zM486 138h41v2h-41zM489 140h36v3h-36zM486 143h39v2h-39zM467 145h58v3h-58zM458 148h67v2h-67zM450 150h72v2h-72zM448 152h74v3h-74zM446 155h76v2h-76zM446 157h76v3h-76zM443 160h79v2h-79zM443 162h82v2h-82zM443 164h82v3h-82zM146 167h7v2h-7zM443 167h82v2h-82zM143 169h12v3h-12zM446 169h81v3h-81zM146 172h9v2h-9zM446 172h76v2h-76zM148 174h10v2h-10zM446 174h74v2h-74zM150 176h10v3h-10zM446 176h72v3h-72zM153 179h9v2h-9zM448 179h70v2h-70zM158 181h7v3h-7zM450 181h58v3h-58zM160 184h7v2h-7zM455 184h46v2h-46zM462 186h29v2h-29zM556 186h14v2h-14zM551 188h22v3h-22zM551 191h24v2h-24zM551 193h27v3h-27zM551 196h29v2h-29zM551 198h31v2h-31zM551 200h31v3h-31zM551 203h34v2h-34zM551 205h34v3h-34zM554 208h33v2h-33zM556 210h31v2h-31zM558 212h29v3h-29zM558 215h29v2h-29zM561 217h26v3h-26zM378 220h12v2h-12zM566 220h21v2h-21zM374 222h19v2h-19zM568 222h19v2h-19zM371 224h24v3h-24zM573 224h14v3h-14zM371 227h29v2h-29zM369 229h36v3h-36zM369 232h38v2h-38zM369 234h43v2h-43zM369 236h45v3h-45zM369 239h50v2h-50zM371 241h46v3h-46zM371 244h43v2h-43zM374 246h40v2h-40zM376 248h36v3h-36zM381 251h29v2h-29zM390 253h15v3h-15zM210 311h17v2h-17zM208 313h17v3h-17zM206 316h19v2h-19zM206 318h9v2h-9zM208 320h2v3h-2zM551 342h10v2h-10zM549 344h14v3h-14zM549 347h19v2h-19zM549 349h21v3h-21zM549 352h21v2h-21zM549 354h24v2h-24zM549 356h26v3h-26zM549 359h29v2h-29zM549 361h31v3h-31zM551 364h31v2h-31zM551 366h36v2h-36zM551 368h39v3h-39zM551 371h41v2h-41zM551 373h41v3h-41zM551 376h43v2h-43zM549 378h45v2h-45zM549 380h45v3h-45zM549 383h45v2h-45zM549 385h45v3h-45zM549 388h45v2h-45zM549 390h43v2h-43zM551 392h39v3h-39zM551 395h36v2h-36zM556 397h26v3h-26zM558 400h17v2h-17zM561 402h7v2h-7zM638 500h4v3h-4zM626 503h21v2h-21zM618 505h32v3h-32zM616 508h34v2h-34z"/>
</g>
<g clip-path="url(#mapclip)" fill="none" stroke="#000" stroke-width="1.4" stroke-linejoin="round">
<path d="M100 283L101.5 287L103 290L106 294L112 297L120 301L126 305L133 307.6L137 306.4L144 309L152 311L160 315L168 317.6L176 320L184 320.6L192 321.6L198 324L202 327L205.6 330.4L208 327.6L212 325L220 323L228 322L238 321L248 320.6L260 320.6L266 320L274 323L280 328L286 334L290 338L294 344L298 352L301 359L303.6 365L305.8 368.4L305.8 374L303 377.4L298.5 380.8L296.8 383.6L298 387L300.8 390.3L304.1 392L309.2 392L313.1 393.7L317.6 396L323.2 398.2L328.3 400.4L330.6 400.4L332.2 397.6L333.4 395.4L332.8 392L331.7 389.2L334 387L337.9 385.8L342.4 385L346.9 384.7L350.2 385.8L354.8 386.4L359.2 386.4L363.8 387.5L368.2 389.8L372.8 392L377.5 394L385 400L392.5 407.5L400 414L410 420L417.5 424.5L425 426.5L435 430.5L445 437L455 444.5L462 452L467 457.5L469 459.5L474 459.5L480 462L488 468L494 474L497 478L502 479.5L510 484L518 490L524 496L530 502.5L536 510"/>
<path d="M291 334L293 333.5L293.5 336L292 337.5L290.5 336L291 334" fill="#000"/>
<path d="M331.7 389.2L334.5 386.6L336.8 386" stroke-width="2"/>
<path d="M333.4 392.6L335.6 390.3L339 388L343.5 387L348 387" stroke-width="2"/>
<path d="M332.8 397.6L335 394.8L337.9 392.6" stroke-width="2"/>
<path d="M341.2 389.2L344.6 388L348 388.6L352.5 388L355.3 389.2L355.3 392.6L351.4 392.6L348 392L344.6 392L341.8 390.9L341.2 389.2" stroke-width="2"/>
<path d="M344 390L348 390.5L353 390.5" stroke-width="2"/>
<path d="M333 390.5L334.5 393L333.5 396" stroke-width="2"/>
<path d="M254 455L260 456.5L271 455L274 458L280 462L284 463L292 466L304 470L312 473L316 478L324 486L327 491L327 495L322 498L314 494L304 493L296 494L289 491L284 486L285 478L283 470L279 466L276 467L268 466L262 464L257 459L254 455"/>
<path d="M148 454L152.5 452.5L154 456L151 459L149 457.5L148 454"/>
</g>
<g fill="none" stroke="#000" stroke-width="1" stroke-dasharray="1.4 1.4">
<path d="M100.5 30.5H700.5V510.5H100.5Z"/>
</g>
<g fill="none" stroke="#000" stroke-width="1.4" stroke-dasharray="1.4 1.4">
<path d="M100 270H700"/>
<path d="M400 510V30"/>
</g>
<text class="t12" x="400" y="23" text-anchor="middle">CVM-H with GTL 300m Depth Vs min 500m/s</text>
<text class="t10" x="95" y="35" text-anchor="end">35.25°N</text>
<text class="t10" x="95" y="275" text-anchor="end">34.25°N</text>
<text class="t10" x="95" y="515" text-anchor="end">33.25°N</text>
<text class="t10" x="100" y="526" text-anchor="middle">119.25°W</text>
<text class="t10" x="400" y="526" text-anchor="middle">118°W</text>
<text class="t10" x="700" y="526" text-anchor="middle">116.75°W</text>
<text class="t12" x="400" y="551" text-anchor="middle">vs (km/s)</text>

<g shape-rendering="crispEdges">
<rect x="79.8" y="558.5" width="49.58" height="12" fill="#67001f"/>
<rect x="129.08" y="558.5" width="49.58" height="12" fill="#a51429"/>
<rect x="178.37" y="558.5" width="49.58" height="12" fill="#ca4842"/>
<rect x="227.65" y="558.5" width="49.58" height="12" fill="#e58267"/>
<rect x="276.94" y="558.5" width="49.58" height="12" fill="#f7b799"/>
<rect x="326.22" y="558.5" width="49.58" height="12" fill="#fce0cf"/>
<rect x="375.51" y="558.5" width="49.58" height="12" fill="#f7f7f7"/>
<rect x="424.79" y="558.5" width="49.58" height="12" fill="#d7e8f1"/>
<rect x="474.08" y="558.5" width="49.58" height="12" fill="#a7d0e4"/>
<rect x="523.36" y="558.5" width="49.58" height="12" fill="#6aacd0"/>
<rect x="572.65" y="558.5" width="49.58" height="12" fill="#3884bb"/>
<rect x="621.93" y="558.5" width="49.58" height="12" fill="#1c5d9f"/>
<rect x="671.22" y="558.5" width="49.28" height="12" fill="#053061"/>
</g>
<g stroke="#000" stroke-width="1" fill="none">
<rect x="80.5" y="558.5" width="640" height="12"/>
<path d="M203.5 558.5V570.5"/>
<path d="M326.5 558.5V570.5"/>
<path d="M375.5 558.5V570.5"/>
<path d="M424.5 558.5V570.5"/>
<path d="M474.5 558.5V570.5"/>
<path d="M523.5 558.5V570.5"/>
<path d="M572.5 558.5V570.5"/>
<path d="M621.5 558.5V570.5"/>
<path d="M670.5 558.5V570.5"/>
</g>
<text class="t10" x="79.7" y="586" text-anchor="middle">0.00</text>
<text class="t10" x="202.8" y="586" text-anchor="middle">0.50</text>
<text class="t10" x="325.9" y="586" text-anchor="middle">1.00</text>
<text class="t10" x="375.1" y="586" text-anchor="middle">1.50</text>
<text class="t10" x="424.3" y="586" text-anchor="middle">2.00</text>
<text class="t10" x="473.5" y="586" text-anchor="middle">2.50</text>
<text class="t10" x="522.8" y="586" text-anchor="middle">3.00</text>
<text class="t10" x="572" y="586" text-anchor="middle">3.50</text>
<text class="t10" x="621.2" y="586" text-anchor="middle">4.00</text>
<text class="t10" x="670.5" y="586" text-anchor="middle">4.50</text>
<text class="t10" x="719.7" y="586" text-anchor="middle">5.00</text>
</svg></body></html>
